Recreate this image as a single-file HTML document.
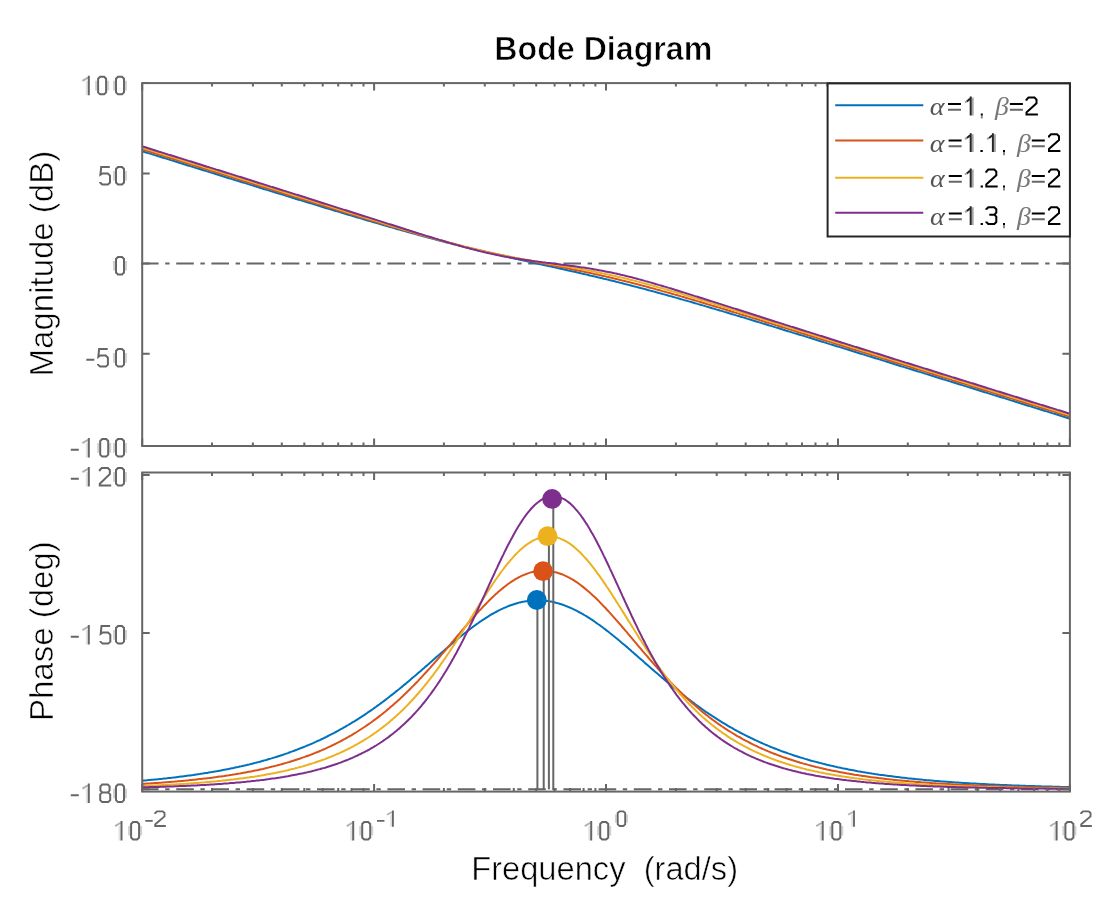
<!DOCTYPE html><html><head><meta charset="utf-8"><style>html,body{margin:0;padding:0;background:#fff;overflow:hidden}svg{display:block;filter:blur(0.65px)}</style></head><body><svg width="1105" height="918" viewBox="0 0 1105 918"><rect width="1105" height="918" fill="#fff"/><text transform="translate(603.3,60) scale(0.975,1)" text-anchor="middle" font-family="Liberation Sans" font-weight="bold" font-size="33" fill="#000" stroke="#fff" stroke-width="0.7">Bode Diagram</text><text transform="translate(53,263.6) rotate(-90)" text-anchor="middle" font-family="Liberation Sans" font-size="33" fill="#000" stroke="#fff" stroke-width="0.6">Magnitude (dB)</text><text transform="translate(53,631.1) rotate(-90)" text-anchor="middle" font-family="Liberation Sans" font-size="33" fill="#000" stroke="#fff" stroke-width="0.6">Phase (deg)</text><text transform="translate(604.6,880) scale(0.99,1)" text-anchor="middle" font-family="Liberation Sans" font-size="33" fill="#000" stroke="#fff" stroke-width="0.6" xml:space="preserve">Frequency  (rad/s)</text><path d="M88.80 75.80V95.30M100.10 76.77H104.10L106.10 78.72V92.38L104.10 94.32H100.10L98.10 92.38V78.72ZM118.00 76.77H122.00L124.00 78.72V92.38L122.00 94.32H118.00L116.00 92.38V78.72ZM109.80 166.97H101.20L100.40 174.78L102.40 173.41H107.80L110.00 175.56V182.57L108.00 184.53H102.20L100.20 182.57V181.99M118.00 166.97H122.00L124.00 168.93V182.57L122.00 184.53H118.00L116.00 182.57V168.93ZM118.00 256.98H122.00L124.00 258.93V272.57L122.00 274.52H118.00L116.00 272.57V258.93ZM86.30 359.70H94.30M107.70 349.08H99.10L98.30 356.88L100.30 355.51H105.70L107.90 357.66V364.68L105.90 366.62H100.10L98.10 364.68V364.09M118.00 349.08H122.00L124.00 351.03V364.68L122.00 366.62H118.00L116.00 364.68V351.03ZM70.80 449.70H78.80M88.80 438.10V457.60M102.20 439.08H106.20L108.20 441.03V454.68L106.20 456.62H102.20L100.20 454.68V441.03ZM118.00 439.08H122.00L124.00 441.03V454.68L122.00 456.62H118.00L116.00 454.68V441.03ZM70.80 478.70H78.80M88.80 467.10V486.60M99.80 471.20V470.03L101.80 468.08H107.80L109.80 470.03V474.12L100.80 482.70L99.80 483.68V485.62H111.20M118.00 468.08H122.00L124.00 470.03V483.68L122.00 485.62H118.00L116.00 483.68V470.03ZM70.80 636.70H78.80M88.80 625.10V644.60M110.10 626.08H101.50L100.70 633.88L102.70 632.51H108.10L110.30 634.65V641.68L108.30 643.62H102.50L100.50 641.68V641.09M118.00 626.08H122.00L124.00 628.02V641.68L122.00 643.62H118.00L116.00 641.68V628.02ZM70.80 795.20H78.80M88.80 783.60V803.10M102.20 784.58H107.80L109.60 786.33V790.43L107.80 792.38H102.20L100.40 790.43V786.33ZM102.20 792.38H108.20L110.20 794.33V800.18L108.20 802.12H102.20L100.20 800.18V794.33ZM118.00 784.58H122.00L124.00 786.52V800.18L122.00 802.12H118.00L116.00 800.18V786.52ZM121.50 821.00V840.50M133.10 821.98H137.10L139.10 823.92V837.58L137.10 839.52H133.10L131.10 837.58V823.92ZM353.20 821.00V840.50M364.20 821.98H368.20L370.20 823.92V837.58L368.20 839.52H364.20L362.20 837.58V823.92ZM591.20 821.00V840.50M602.20 821.98H606.20L608.20 823.92V837.58L606.20 839.52H602.20L600.20 837.58V823.92ZM822.70 821.00V840.50M834.30 821.98H838.30L840.30 823.92V837.58L838.30 839.52H834.30L832.30 837.58V823.92ZM1056.60 821.00V840.50M1067.40 821.98H1071.40L1073.40 823.92V837.58L1071.40 839.52H1067.40L1065.40 837.58V823.92Z" fill="none" stroke="#666666" stroke-width="2.00" stroke-linejoin="miter" stroke-linecap="butt"/><path d="M88.00 77.55L82.40 80.87M88.00 439.86L82.40 443.17M88.00 468.86L82.40 472.17M88.00 626.86L82.40 630.17M88.00 785.36L82.40 788.67M120.70 822.75L115.10 826.07M352.40 822.75L346.80 826.07M590.40 822.75L584.80 826.07M821.90 822.75L816.30 826.07M1055.80 822.75L1050.20 826.07" fill="none" stroke="#666666" stroke-width="2.00" stroke-linejoin="miter" stroke-linecap="butt" stroke-opacity="0.5"/><path d="M86.80 80.67V95.30M86.80 442.98V457.60M86.80 471.98V486.60M86.80 629.98V644.60M86.80 788.48V803.10M119.50 825.88V840.50M351.20 825.88V840.50M589.20 825.88V840.50M820.70 825.88V840.50M1054.60 825.88V840.50" fill="none" stroke="#666666" stroke-width="2.00" stroke-linejoin="miter" stroke-linecap="butt" stroke-opacity="0.18"/><path d="M96.10 80.67V90.42M108.10 80.67V90.42M114.00 80.67V90.42M126.00 80.67V90.42M114.00 170.88V180.62M126.00 170.88V180.62M114.00 260.88V270.62M126.00 260.88V270.62M114.00 352.98V362.73M126.00 352.98V362.73M98.20 442.98V452.73M110.20 442.98V452.73M114.00 442.98V452.73M126.00 442.98V452.73M114.00 471.98V481.73M126.00 471.98V481.73M114.00 629.98V639.73M126.00 629.98V639.73M114.00 788.48V798.23M126.00 788.48V798.23M129.10 825.88V835.62M141.10 825.88V835.62M360.20 825.88V835.62M372.20 825.88V835.62M598.20 825.88V835.62M610.20 825.88V835.62M830.30 825.88V835.62M842.30 825.88V835.62M1063.40 825.88V835.62M1075.40 825.88V835.62" fill="none" stroke="#666666" stroke-width="2.00" stroke-linejoin="miter" stroke-linecap="butt" stroke-opacity="0.3"/><path d="M155.23 813.92V812.95L157.09 811.32H162.67L164.53 812.95V816.37L156.16 823.54L155.23 824.36V825.99H165.83M392.91 810.50V826.80M619.59 811.32H623.31L625.17 812.95V824.36L623.31 825.99H619.59L617.73 824.36V812.95ZM854.01 810.50V826.80M1081.23 813.92V812.95L1083.09 811.32H1088.67L1090.53 812.95V816.37L1082.16 823.54L1081.23 824.36V825.99H1091.83" fill="none" stroke="#666666" stroke-width="1.86" stroke-linejoin="miter" stroke-linecap="butt"/><path d="M392.17 811.97L386.96 814.74M853.27 811.97L848.06 814.74" fill="none" stroke="#666666" stroke-width="1.86" stroke-linejoin="miter" stroke-linecap="butt" stroke-opacity="0.5"/><path d="M391.05 814.58V826.80M852.15 814.58V826.80" fill="none" stroke="#666666" stroke-width="1.86" stroke-linejoin="miter" stroke-linecap="butt" stroke-opacity="0.18"/><path d="M615.87 814.58V822.73M627.03 814.58V822.73" fill="none" stroke="#666666" stroke-width="1.86" stroke-linejoin="miter" stroke-linecap="butt" stroke-opacity="0.3"/><path d="M145.30 820.90H152.74M377.00 820.90H384.44" fill="none" stroke="#666666" stroke-width="1.86" stroke-linejoin="miter" stroke-linecap="butt"/><defs><clipPath id="cm"><rect x="142.2" y="83.1" width="927.7" height="362.9"/></clipPath><clipPath id="cp"><rect x="142.2" y="472.5" width="927.7" height="319.1"/></clipPath></defs><path d="M141 263.6H1069.9M141 789.3H1069.9" stroke="#666666" stroke-width="2" stroke-dasharray="17.6 6.6 4.4 6.6" fill="none"/><g clip-path="url(#cm)" fill="none" stroke-width="2.0"><polyline points="142.2,151.2 143.7,151.7 145.3,152.2 146.8,152.7 148.4,153.1 149.9,153.6 151.5,154.1 153.0,154.6 154.6,155.1 156.1,155.6 157.7,156.0 159.2,156.5 160.8,157.0 162.3,157.5 163.9,158.0 165.4,158.4 167.0,158.9 168.5,159.4 170.1,159.9 171.6,160.4 173.2,160.8 174.7,161.3 176.3,161.8 177.8,162.3 179.4,162.8 180.9,163.3 182.5,163.7 184.0,164.2 185.6,164.7 187.1,165.2 188.7,165.7 190.2,166.1 191.8,166.6 193.3,167.1 194.9,167.6 196.4,168.1 198.0,168.5 199.5,169.0 201.1,169.5 202.6,170.0 204.1,170.5 205.7,170.9 207.2,171.4 208.8,171.9 210.3,172.4 211.9,172.9 213.4,173.3 215.0,173.8 216.5,174.3 218.1,174.8 219.6,175.3 221.2,175.8 222.7,176.2 224.3,176.7 225.8,177.2 227.4,177.7 228.9,178.2 230.5,178.6 232.0,179.1 233.6,179.6 235.1,180.1 236.7,180.6 238.2,181.0 239.8,181.5 241.3,182.0 242.9,182.5 244.4,182.9 246.0,183.4 247.5,183.9 249.1,184.4 250.6,184.9 252.2,185.3 253.7,185.8 255.3,186.3 256.8,186.8 258.4,187.3 259.9,187.7 261.5,188.2 263.0,188.7 264.6,189.2 266.1,189.6 267.6,190.1 269.2,190.6 270.7,191.1 272.3,191.6 273.8,192.0 275.4,192.5 276.9,193.0 278.5,193.5 280.0,193.9 281.6,194.4 283.1,194.9 284.7,195.4 286.2,195.9 287.8,196.3 289.3,196.8 290.9,197.3 292.4,197.8 294.0,198.2 295.5,198.7 297.1,199.2 298.6,199.7 300.2,200.1 301.7,200.6 303.3,201.1 304.8,201.6 306.4,202.0 307.9,202.5 309.5,203.0 311.0,203.4 312.6,203.9 314.1,204.4 315.7,204.9 317.2,205.3 318.8,205.8 320.3,206.3 321.9,206.7 323.4,207.2 325.0,207.7 326.5,208.2 328.0,208.6 329.6,209.1 331.1,209.6 332.7,210.0 334.2,210.5 335.8,211.0 337.3,211.4 338.9,211.9 340.4,212.4 342.0,212.8 343.5,213.3 345.1,213.8 346.6,214.2 348.2,214.7 349.7,215.1 351.3,215.6 352.8,216.1 354.4,216.5 355.9,217.0 357.5,217.5 359.0,217.9 360.6,218.4 362.1,218.8 363.7,219.3 365.2,219.7 366.8,220.2 368.3,220.7 369.9,221.1 371.4,221.6 373.0,222.0 374.5,222.5 376.1,222.9 377.6,223.4 379.2,223.8 380.7,224.3 382.3,224.7 383.8,225.2 385.4,225.6 386.9,226.1 388.5,226.5 390.0,227.0 391.5,227.4 393.1,227.8 394.6,228.3 396.2,228.7 397.7,229.2 399.3,229.6 400.8,230.0 402.4,230.5 403.9,230.9 405.5,231.3 407.0,231.8 408.6,232.2 410.1,232.6 411.7,233.1 413.2,233.5 414.8,233.9 416.3,234.4 417.9,234.8 419.4,235.2 421.0,235.6 422.5,236.0 424.1,236.5 425.6,236.9 427.2,237.3 428.7,237.7 430.3,238.1 431.8,238.5 433.4,238.9 434.9,239.4 436.5,239.8 438.0,240.2 439.6,240.6 441.1,241.0 442.7,241.4 444.2,241.8 445.8,242.2 447.3,242.6 448.9,243.0 450.4,243.4 451.9,243.8 453.5,244.2 455.0,244.5 456.6,244.9 458.1,245.3 459.7,245.7 461.2,246.1 462.8,246.5 464.3,246.9 465.9,247.2 467.4,247.6 469.0,248.0 470.5,248.4 472.1,248.7 473.6,249.1 475.2,249.5 476.7,249.9 478.3,250.2 479.8,250.6 481.4,251.0 482.9,251.3 484.5,251.7 486.0,252.1 487.6,252.4 489.1,252.8 490.7,253.1 492.2,253.5 493.8,253.9 495.3,254.2 496.9,254.6 498.4,254.9 500.0,255.3 501.5,255.6 503.1,256.0 504.6,256.3 506.2,256.7 507.7,257.0 509.3,257.4 510.8,257.7 512.4,258.1 513.9,258.4 515.4,258.8 517.0,259.1 518.5,259.4 520.1,259.8 521.6,260.1 523.2,260.5 524.7,260.8 526.3,261.1 527.8,261.5 529.4,261.8 530.9,262.2 532.5,262.5 534.0,262.9 535.6,263.2 537.1,263.5 537.4,263.6 538.7,263.9 540.2,264.2 541.8,264.6 543.3,264.9 544.9,265.2 546.4,265.6 548.0,265.9 549.5,266.3 551.1,266.6 552.6,266.9 554.2,267.3 555.7,267.6 557.3,268.0 558.8,268.3 560.4,268.7 561.9,269.0 563.5,269.3 565.0,269.7 566.6,270.0 568.1,270.4 569.7,270.7 571.2,271.1 572.8,271.4 574.3,271.8 575.8,272.1 577.4,272.5 578.9,272.8 580.5,273.2 582.0,273.6 583.6,273.9 585.1,274.3 586.7,274.6 588.2,275.0 589.8,275.4 591.3,275.7 592.9,276.1 594.4,276.4 596.0,276.8 597.5,277.2 599.1,277.6 600.6,277.9 602.2,278.3 603.7,278.7 605.3,279.0 606.8,279.4 608.4,279.8 609.9,280.2 611.5,280.6 613.0,280.9 614.6,281.3 616.1,281.7 617.7,282.1 619.2,282.5 620.8,282.9 622.3,283.3 623.9,283.7 625.4,284.1 627.0,284.5 628.5,284.9 630.1,285.3 631.6,285.7 633.2,286.1 634.7,286.5 636.3,286.9 637.8,287.3 639.3,287.7 640.9,288.1 642.4,288.5 644.0,288.9 645.5,289.3 647.1,289.7 648.6,290.2 650.2,290.6 651.7,291.0 653.3,291.4 654.8,291.8 656.4,292.3 657.9,292.7 659.5,293.1 661.0,293.5 662.6,294.0 664.1,294.4 665.7,294.8 667.2,295.2 668.8,295.7 670.3,296.1 671.9,296.5 673.4,297.0 675.0,297.4 676.5,297.9 678.1,298.3 679.6,298.7 681.2,299.2 682.7,299.6 684.3,300.1 685.8,300.5 687.4,300.9 688.9,301.4 690.5,301.8 692.0,302.3 693.6,302.7 695.1,303.2 696.7,303.6 698.2,304.1 699.7,304.5 701.3,305.0 702.8,305.4 704.4,305.9 705.9,306.4 707.5,306.8 709.0,307.3 710.6,307.7 712.1,308.2 713.7,308.6 715.2,309.1 716.8,309.6 718.3,310.0 719.9,310.5 721.4,310.9 723.0,311.4 724.5,311.9 726.1,312.3 727.6,312.8 729.2,313.3 730.7,313.7 732.3,314.2 733.8,314.6 735.4,315.1 736.9,315.6 738.5,316.0 740.0,316.5 741.6,317.0 743.1,317.4 744.7,317.9 746.2,318.4 747.8,318.9 749.3,319.3 750.9,319.8 752.4,320.3 754.0,320.7 755.5,321.2 757.1,321.7 758.6,322.1 760.2,322.6 761.7,323.1 763.2,323.6 764.8,324.0 766.3,324.5 767.9,325.0 769.4,325.5 771.0,325.9 772.5,326.4 774.1,326.9 775.6,327.4 777.2,327.8 778.7,328.3 780.3,328.8 781.8,329.3 783.4,329.7 784.9,330.2 786.5,330.7 788.0,331.2 789.6,331.6 791.1,332.1 792.7,332.6 794.2,333.1 795.8,333.5 797.3,334.0 798.9,334.5 800.4,335.0 802.0,335.4 803.5,335.9 805.1,336.4 806.6,336.9 808.2,337.4 809.7,337.8 811.3,338.3 812.8,338.8 814.4,339.3 815.9,339.7 817.5,340.2 819.0,340.7 820.6,341.2 822.1,341.7 823.6,342.1 825.2,342.6 826.7,343.1 828.3,343.6 829.8,344.1 831.4,344.5 832.9,345.0 834.5,345.5 836.0,346.0 837.6,346.5 839.1,346.9 840.7,347.4 842.2,347.9 843.8,348.4 845.3,348.9 846.9,349.3 848.4,349.8 850.0,350.3 851.5,350.8 853.1,351.3 854.6,351.7 856.2,352.2 857.7,352.7 859.3,353.2 860.8,353.7 862.4,354.1 863.9,354.6 865.5,355.1 867.0,355.6 868.6,356.1 870.1,356.5 871.7,357.0 873.2,357.5 874.8,358.0 876.3,358.5 877.9,358.9 879.4,359.4 881.0,359.9 882.5,360.4 884.1,360.9 885.6,361.3 887.1,361.8 888.7,362.3 890.2,362.8 891.8,363.3 893.3,363.8 894.9,364.2 896.4,364.7 898.0,365.2 899.5,365.7 901.1,366.2 902.6,366.6 904.2,367.1 905.7,367.6 907.3,368.1 908.8,368.6 910.4,369.0 911.9,369.5 913.5,370.0 915.0,370.5 916.6,371.0 918.1,371.5 919.7,371.9 921.2,372.4 922.8,372.9 924.3,373.4 925.9,373.9 927.4,374.3 929.0,374.8 930.5,375.3 932.1,375.8 933.6,376.3 935.2,376.8 936.7,377.2 938.3,377.7 939.8,378.2 941.4,378.7 942.9,379.2 944.5,379.6 946.0,380.1 947.5,380.6 949.1,381.1 950.6,381.6 952.2,382.0 953.7,382.5 955.3,383.0 956.8,383.5 958.4,384.0 959.9,384.5 961.5,384.9 963.0,385.4 964.6,385.9 966.1,386.4 967.7,386.9 969.2,387.3 970.8,387.8 972.3,388.3 973.9,388.8 975.4,389.3 977.0,389.8 978.5,390.2 980.1,390.7 981.6,391.2 983.2,391.7 984.7,392.2 986.3,392.6 987.8,393.1 989.4,393.6 990.9,394.1 992.5,394.6 994.0,395.1 995.6,395.5 997.1,396.0 998.7,396.5 1000.2,397.0 1001.8,397.5 1003.3,397.9 1004.9,398.4 1006.4,398.9 1008.0,399.4 1009.5,399.9 1011.0,400.4 1012.6,400.8 1014.1,401.3 1015.7,401.8 1017.2,402.3 1018.8,402.8 1020.3,403.2 1021.9,403.7 1023.4,404.2 1025.0,404.7 1026.5,405.2 1028.1,405.7 1029.6,406.1 1031.2,406.6 1032.7,407.1 1034.3,407.6 1035.8,408.1 1037.4,408.5 1038.9,409.0 1040.5,409.5 1042.0,410.0 1043.6,410.5 1045.1,411.0 1046.7,411.4 1048.2,411.9 1049.8,412.4 1051.3,412.9 1052.9,413.4 1054.4,413.8 1056.0,414.3 1057.5,414.8 1059.1,415.3 1060.6,415.8 1062.2,416.3 1063.7,416.7 1065.3,417.2 1066.8,417.7 1068.4,418.2 1069.9,418.7" stroke="#0072BD"/><polyline points="142.2,149.3 143.7,149.8 145.3,150.3 146.8,150.8 148.4,151.3 149.9,151.7 151.5,152.2 153.0,152.7 154.6,153.2 156.1,153.7 157.7,154.2 159.2,154.6 160.8,155.1 162.3,155.6 163.9,156.1 165.4,156.6 167.0,157.0 168.5,157.5 170.1,158.0 171.6,158.5 173.2,159.0 174.7,159.5 176.3,159.9 177.8,160.4 179.4,160.9 180.9,161.4 182.5,161.9 184.0,162.4 185.6,162.8 187.1,163.3 188.7,163.8 190.2,164.3 191.8,164.8 193.3,165.3 194.9,165.7 196.4,166.2 198.0,166.7 199.5,167.2 201.1,167.7 202.6,168.2 204.1,168.6 205.7,169.1 207.2,169.6 208.8,170.1 210.3,170.6 211.9,171.0 213.4,171.5 215.0,172.0 216.5,172.5 218.1,173.0 219.6,173.5 221.2,173.9 222.7,174.4 224.3,174.9 225.8,175.4 227.4,175.9 228.9,176.4 230.5,176.8 232.0,177.3 233.6,177.8 235.1,178.3 236.7,178.8 238.2,179.3 239.8,179.7 241.3,180.2 242.9,180.7 244.4,181.2 246.0,181.7 247.5,182.2 249.1,182.6 250.6,183.1 252.2,183.6 253.7,184.1 255.3,184.6 256.8,185.0 258.4,185.5 259.9,186.0 261.5,186.5 263.0,187.0 264.6,187.5 266.1,187.9 267.6,188.4 269.2,188.9 270.7,189.4 272.3,189.9 273.8,190.4 275.4,190.8 276.9,191.3 278.5,191.8 280.0,192.3 281.6,192.8 283.1,193.3 284.7,193.7 286.2,194.2 287.8,194.7 289.3,195.2 290.9,195.7 292.4,196.1 294.0,196.6 295.5,197.1 297.1,197.6 298.6,198.1 300.2,198.6 301.7,199.0 303.3,199.5 304.8,200.0 306.4,200.5 307.9,201.0 309.5,201.4 311.0,201.9 312.6,202.4 314.1,202.9 315.7,203.4 317.2,203.8 318.8,204.3 320.3,204.8 321.9,205.3 323.4,205.8 325.0,206.2 326.5,206.7 328.0,207.2 329.6,207.7 331.1,208.2 332.7,208.6 334.2,209.1 335.8,209.6 337.3,210.1 338.9,210.5 340.4,211.0 342.0,211.5 343.5,212.0 345.1,212.5 346.6,212.9 348.2,213.4 349.7,213.9 351.3,214.4 352.8,214.8 354.4,215.3 355.9,215.8 357.5,216.3 359.0,216.7 360.6,217.2 362.1,217.7 363.7,218.1 365.2,218.6 366.8,219.1 368.3,219.6 369.9,220.0 371.4,220.5 373.0,221.0 374.5,221.4 376.1,221.9 377.6,222.4 379.2,222.8 380.7,223.3 382.3,223.8 383.8,224.2 385.4,224.7 386.9,225.1 388.5,225.6 390.0,226.1 391.5,226.5 393.1,227.0 394.6,227.4 396.2,227.9 397.7,228.4 399.3,228.8 400.8,229.3 402.4,229.7 403.9,230.2 405.5,230.6 407.0,231.1 408.6,231.5 410.1,232.0 411.7,232.4 413.2,232.9 414.8,233.3 416.3,233.7 417.9,234.2 419.4,234.6 421.0,235.1 422.5,235.5 424.1,235.9 425.6,236.4 427.2,236.8 428.7,237.2 430.3,237.6 431.8,238.1 433.4,238.5 434.9,238.9 436.5,239.3 438.0,239.8 439.6,240.2 441.1,240.6 442.7,241.0 444.2,241.4 445.8,241.8 447.3,242.2 448.9,242.6 450.4,243.0 451.9,243.4 453.5,243.8 455.0,244.2 456.6,244.6 458.1,245.0 459.7,245.4 461.2,245.8 462.8,246.2 464.3,246.6 465.9,247.0 467.4,247.3 469.0,247.7 470.5,248.1 472.1,248.5 473.6,248.8 475.2,249.2 476.7,249.6 478.3,249.9 479.8,250.3 481.4,250.6 482.9,251.0 484.5,251.3 486.0,251.7 487.6,252.0 489.1,252.4 490.7,252.7 492.2,253.1 493.8,253.4 495.3,253.8 496.9,254.1 498.4,254.4 500.0,254.8 501.5,255.1 503.1,255.4 504.6,255.8 506.2,256.1 507.7,256.4 509.3,256.7 510.8,257.0 512.4,257.4 513.9,257.7 515.4,258.0 517.0,258.3 518.5,258.6 520.1,258.9 521.6,259.3 523.2,259.6 524.7,259.9 526.3,260.2 527.8,260.5 529.4,260.8 530.9,261.1 532.5,261.4 534.0,261.7 535.6,262.0 537.1,262.3 538.7,262.6 540.2,262.9 541.8,263.2 543.3,263.5 543.7,263.6 544.9,263.8 546.4,264.1 548.0,264.4 549.5,264.7 551.1,265.0 552.6,265.4 554.2,265.7 555.7,266.0 557.3,266.3 558.8,266.6 560.4,266.9 561.9,267.2 563.5,267.5 565.0,267.8 566.6,268.1 568.1,268.4 569.7,268.7 571.2,269.1 572.8,269.4 574.3,269.7 575.8,270.0 577.4,270.3 578.9,270.7 580.5,271.0 582.0,271.3 583.6,271.6 585.1,272.0 586.7,272.3 588.2,272.6 589.8,272.9 591.3,273.3 592.9,273.6 594.4,274.0 596.0,274.3 597.5,274.6 599.1,275.0 600.6,275.3 602.2,275.7 603.7,276.0 605.3,276.4 606.8,276.8 608.4,277.1 609.9,277.5 611.5,277.8 613.0,278.2 614.6,278.6 616.1,278.9 617.7,279.3 619.2,279.7 620.8,280.1 622.3,280.5 623.9,280.8 625.4,281.2 627.0,281.6 628.5,282.0 630.1,282.4 631.6,282.8 633.2,283.2 634.7,283.6 636.3,284.0 637.8,284.4 639.3,284.8 640.9,285.2 642.4,285.6 644.0,286.0 645.5,286.4 647.1,286.8 648.6,287.2 650.2,287.7 651.7,288.1 653.3,288.5 654.8,288.9 656.4,289.4 657.9,289.8 659.5,290.2 661.0,290.6 662.6,291.1 664.1,291.5 665.7,291.9 667.2,292.4 668.8,292.8 670.3,293.3 671.9,293.7 673.4,294.1 675.0,294.6 676.5,295.0 678.1,295.5 679.6,295.9 681.2,296.4 682.7,296.8 684.3,297.3 685.8,297.7 687.4,298.2 688.9,298.6 690.5,299.1 692.0,299.5 693.6,300.0 695.1,300.5 696.7,300.9 698.2,301.4 699.7,301.8 701.3,302.3 702.8,302.8 704.4,303.2 705.9,303.7 707.5,304.2 709.0,304.6 710.6,305.1 712.1,305.6 713.7,306.0 715.2,306.5 716.8,307.0 718.3,307.4 719.9,307.9 721.4,308.4 723.0,308.8 724.5,309.3 726.1,309.8 727.6,310.3 729.2,310.7 730.7,311.2 732.3,311.7 733.8,312.2 735.4,312.6 736.9,313.1 738.5,313.6 740.0,314.1 741.6,314.5 743.1,315.0 744.7,315.5 746.2,316.0 747.8,316.4 749.3,316.9 750.9,317.4 752.4,317.9 754.0,318.3 755.5,318.8 757.1,319.3 758.6,319.8 760.2,320.3 761.7,320.7 763.2,321.2 764.8,321.7 766.3,322.2 767.9,322.7 769.4,323.1 771.0,323.6 772.5,324.1 774.1,324.6 775.6,325.1 777.2,325.5 778.7,326.0 780.3,326.5 781.8,327.0 783.4,327.5 784.9,327.9 786.5,328.4 788.0,328.9 789.6,329.4 791.1,329.9 792.7,330.4 794.2,330.8 795.8,331.3 797.3,331.8 798.9,332.3 800.4,332.8 802.0,333.2 803.5,333.7 805.1,334.2 806.6,334.7 808.2,335.2 809.7,335.7 811.3,336.1 812.8,336.6 814.4,337.1 815.9,337.6 817.5,338.1 819.0,338.6 820.6,339.0 822.1,339.5 823.6,340.0 825.2,340.5 826.7,341.0 828.3,341.4 829.8,341.9 831.4,342.4 832.9,342.9 834.5,343.4 836.0,343.9 837.6,344.3 839.1,344.8 840.7,345.3 842.2,345.8 843.8,346.3 845.3,346.8 846.9,347.2 848.4,347.7 850.0,348.2 851.5,348.7 853.1,349.2 854.6,349.7 856.2,350.1 857.7,350.6 859.3,351.1 860.8,351.6 862.4,352.1 863.9,352.6 865.5,353.0 867.0,353.5 868.6,354.0 870.1,354.5 871.7,355.0 873.2,355.4 874.8,355.9 876.3,356.4 877.9,356.9 879.4,357.4 881.0,357.9 882.5,358.3 884.1,358.8 885.6,359.3 887.1,359.8 888.7,360.3 890.2,360.8 891.8,361.2 893.3,361.7 894.9,362.2 896.4,362.7 898.0,363.2 899.5,363.7 901.1,364.1 902.6,364.6 904.2,365.1 905.7,365.6 907.3,366.1 908.8,366.6 910.4,367.0 911.9,367.5 913.5,368.0 915.0,368.5 916.6,369.0 918.1,369.4 919.7,369.9 921.2,370.4 922.8,370.9 924.3,371.4 925.9,371.9 927.4,372.3 929.0,372.8 930.5,373.3 932.1,373.8 933.6,374.3 935.2,374.8 936.7,375.2 938.3,375.7 939.8,376.2 941.4,376.7 942.9,377.2 944.5,377.7 946.0,378.1 947.5,378.6 949.1,379.1 950.6,379.6 952.2,380.1 953.7,380.5 955.3,381.0 956.8,381.5 958.4,382.0 959.9,382.5 961.5,383.0 963.0,383.4 964.6,383.9 966.1,384.4 967.7,384.9 969.2,385.4 970.8,385.9 972.3,386.3 973.9,386.8 975.4,387.3 977.0,387.8 978.5,388.3 980.1,388.7 981.6,389.2 983.2,389.7 984.7,390.2 986.3,390.7 987.8,391.2 989.4,391.6 990.9,392.1 992.5,392.6 994.0,393.1 995.6,393.6 997.1,394.1 998.7,394.5 1000.2,395.0 1001.8,395.5 1003.3,396.0 1004.9,396.5 1006.4,396.9 1008.0,397.4 1009.5,397.9 1011.0,398.4 1012.6,398.9 1014.1,399.4 1015.7,399.8 1017.2,400.3 1018.8,400.8 1020.3,401.3 1021.9,401.8 1023.4,402.2 1025.0,402.7 1026.5,403.2 1028.1,403.7 1029.6,404.2 1031.2,404.7 1032.7,405.1 1034.3,405.6 1035.8,406.1 1037.4,406.6 1038.9,407.1 1040.5,407.6 1042.0,408.0 1043.6,408.5 1045.1,409.0 1046.7,409.5 1048.2,410.0 1049.8,410.4 1051.3,410.9 1052.9,411.4 1054.4,411.9 1056.0,412.4 1057.5,412.9 1059.1,413.3 1060.6,413.8 1062.2,414.3 1063.7,414.8 1065.3,415.3 1066.8,415.7 1068.4,416.2 1069.9,416.7" stroke="#D95319"/><polyline points="142.2,147.7 143.7,148.2 145.3,148.7 146.8,149.2 148.4,149.7 149.9,150.1 151.5,150.6 153.0,151.1 154.6,151.6 156.1,152.1 157.7,152.6 159.2,153.0 160.8,153.5 162.3,154.0 163.9,154.5 165.4,155.0 167.0,155.5 168.5,155.9 170.1,156.4 171.6,156.9 173.2,157.4 174.7,157.9 176.3,158.4 177.8,158.8 179.4,159.3 180.9,159.8 182.5,160.3 184.0,160.8 185.6,161.3 187.1,161.7 188.7,162.2 190.2,162.7 191.8,163.2 193.3,163.7 194.9,164.2 196.4,164.6 198.0,165.1 199.5,165.6 201.1,166.1 202.6,166.6 204.1,167.1 205.7,167.5 207.2,168.0 208.8,168.5 210.3,169.0 211.9,169.5 213.4,170.0 215.0,170.4 216.5,170.9 218.1,171.4 219.6,171.9 221.2,172.4 222.7,172.9 224.3,173.3 225.8,173.8 227.4,174.3 228.9,174.8 230.5,175.3 232.0,175.8 233.6,176.3 235.1,176.7 236.7,177.2 238.2,177.7 239.8,178.2 241.3,178.7 242.9,179.2 244.4,179.6 246.0,180.1 247.5,180.6 249.1,181.1 250.6,181.6 252.2,182.1 253.7,182.6 255.3,183.0 256.8,183.5 258.4,184.0 259.9,184.5 261.5,185.0 263.0,185.5 264.6,185.9 266.1,186.4 267.6,186.9 269.2,187.4 270.7,187.9 272.3,188.4 273.8,188.9 275.4,189.3 276.9,189.8 278.5,190.3 280.0,190.8 281.6,191.3 283.1,191.8 284.7,192.3 286.2,192.7 287.8,193.2 289.3,193.7 290.9,194.2 292.4,194.7 294.0,195.2 295.5,195.7 297.1,196.1 298.6,196.6 300.2,197.1 301.7,197.6 303.3,198.1 304.8,198.6 306.4,199.1 307.9,199.6 309.5,200.0 311.0,200.5 312.6,201.0 314.1,201.5 315.7,202.0 317.2,202.5 318.8,203.0 320.3,203.4 321.9,203.9 323.4,204.4 325.0,204.9 326.5,205.4 328.0,205.9 329.6,206.4 331.1,206.8 332.7,207.3 334.2,207.8 335.8,208.3 337.3,208.8 338.9,209.3 340.4,209.8 342.0,210.2 343.5,210.7 345.1,211.2 346.6,211.7 348.2,212.2 349.7,212.7 351.3,213.2 352.8,213.6 354.4,214.1 355.9,214.6 357.5,215.1 359.0,215.6 360.6,216.1 362.1,216.6 363.7,217.0 365.2,217.5 366.8,218.0 368.3,218.5 369.9,219.0 371.4,219.5 373.0,219.9 374.5,220.4 376.1,220.9 377.6,221.4 379.2,221.9 380.7,222.3 382.3,222.8 383.8,223.3 385.4,223.8 386.9,224.3 388.5,224.7 390.0,225.2 391.5,225.7 393.1,226.2 394.6,226.7 396.2,227.1 397.7,227.6 399.3,228.1 400.8,228.6 402.4,229.0 403.9,229.5 405.5,230.0 407.0,230.4 408.6,230.9 410.1,231.4 411.7,231.8 413.2,232.3 414.8,232.8 416.3,233.2 417.9,233.7 419.4,234.2 421.0,234.6 422.5,235.1 424.1,235.5 425.6,236.0 427.2,236.4 428.7,236.9 430.3,237.3 431.8,237.8 433.4,238.2 434.9,238.7 436.5,239.1 438.0,239.6 439.6,240.0 441.1,240.4 442.7,240.9 444.2,241.3 445.8,241.7 447.3,242.2 448.9,242.6 450.4,243.0 451.9,243.4 453.5,243.9 455.0,244.3 456.6,244.7 458.1,245.1 459.7,245.5 461.2,245.9 462.8,246.3 464.3,246.7 465.9,247.1 467.4,247.5 469.0,247.9 470.5,248.3 472.1,248.6 473.6,249.0 475.2,249.4 476.7,249.8 478.3,250.1 479.8,250.5 481.4,250.8 482.9,251.2 484.5,251.6 486.0,251.9 487.6,252.2 489.1,252.6 490.7,252.9 492.2,253.3 493.8,253.6 495.3,253.9 496.9,254.2 498.4,254.6 500.0,254.9 501.5,255.2 503.1,255.5 504.6,255.8 506.2,256.1 507.7,256.4 509.3,256.7 510.8,257.0 512.4,257.3 513.9,257.6 515.4,257.9 517.0,258.2 518.5,258.4 520.1,258.7 521.6,259.0 523.2,259.3 524.7,259.5 526.3,259.8 527.8,260.1 529.4,260.3 530.9,260.6 532.5,260.9 534.0,261.1 535.6,261.4 537.1,261.7 538.7,261.9 540.2,262.2 541.8,262.4 543.3,262.7 544.9,262.9 546.4,263.2 548.0,263.5 548.9,263.6 549.5,263.7 551.1,264.0 552.6,264.2 554.2,264.5 555.7,264.7 557.3,265.0 558.8,265.2 560.4,265.5 561.9,265.8 563.5,266.0 565.0,266.3 566.6,266.5 568.1,266.8 569.7,267.1 571.2,267.3 572.8,267.6 574.3,267.9 575.8,268.2 577.4,268.4 578.9,268.7 580.5,269.0 582.0,269.3 583.6,269.6 585.1,269.8 586.7,270.1 588.2,270.4 589.8,270.7 591.3,271.0 592.9,271.3 594.4,271.6 596.0,272.0 597.5,272.3 599.1,272.6 600.6,272.9 602.2,273.2 603.7,273.6 605.3,273.9 606.8,274.2 608.4,274.6 609.9,274.9 611.5,275.2 613.0,275.6 614.6,275.9 616.1,276.3 617.7,276.7 619.2,277.0 620.8,277.4 622.3,277.8 623.9,278.1 625.4,278.5 627.0,278.9 628.5,279.3 630.1,279.7 631.6,280.0 633.2,280.4 634.7,280.8 636.3,281.2 637.8,281.6 639.3,282.0 640.9,282.4 642.4,282.9 644.0,283.3 645.5,283.7 647.1,284.1 648.6,284.5 650.2,285.0 651.7,285.4 653.3,285.8 654.8,286.2 656.4,286.7 657.9,287.1 659.5,287.6 661.0,288.0 662.6,288.4 664.1,288.9 665.7,289.3 667.2,289.8 668.8,290.2 670.3,290.7 671.9,291.1 673.4,291.6 675.0,292.0 676.5,292.5 678.1,293.0 679.6,293.4 681.2,293.9 682.7,294.4 684.3,294.8 685.8,295.3 687.4,295.7 688.9,296.2 690.5,296.7 692.0,297.2 693.6,297.6 695.1,298.1 696.7,298.6 698.2,299.0 699.7,299.5 701.3,300.0 702.8,300.5 704.4,300.9 705.9,301.4 707.5,301.9 709.0,302.4 710.6,302.9 712.1,303.3 713.7,303.8 715.2,304.3 716.8,304.8 718.3,305.3 719.9,305.7 721.4,306.2 723.0,306.7 724.5,307.2 726.1,307.7 727.6,308.1 729.2,308.6 730.7,309.1 732.3,309.6 733.8,310.1 735.4,310.6 736.9,311.0 738.5,311.5 740.0,312.0 741.6,312.5 743.1,313.0 744.7,313.5 746.2,314.0 747.8,314.4 749.3,314.9 750.9,315.4 752.4,315.9 754.0,316.4 755.5,316.9 757.1,317.4 758.6,317.8 760.2,318.3 761.7,318.8 763.2,319.3 764.8,319.8 766.3,320.3 767.9,320.8 769.4,321.2 771.0,321.7 772.5,322.2 774.1,322.7 775.6,323.2 777.2,323.7 778.7,324.2 780.3,324.6 781.8,325.1 783.4,325.6 784.9,326.1 786.5,326.6 788.0,327.1 789.6,327.6 791.1,328.1 792.7,328.5 794.2,329.0 795.8,329.5 797.3,330.0 798.9,330.5 800.4,331.0 802.0,331.5 803.5,331.9 805.1,332.4 806.6,332.9 808.2,333.4 809.7,333.9 811.3,334.4 812.8,334.9 814.4,335.3 815.9,335.8 817.5,336.3 819.0,336.8 820.6,337.3 822.1,337.8 823.6,338.3 825.2,338.7 826.7,339.2 828.3,339.7 829.8,340.2 831.4,340.7 832.9,341.2 834.5,341.7 836.0,342.1 837.6,342.6 839.1,343.1 840.7,343.6 842.2,344.1 843.8,344.6 845.3,345.0 846.9,345.5 848.4,346.0 850.0,346.5 851.5,347.0 853.1,347.5 854.6,348.0 856.2,348.4 857.7,348.9 859.3,349.4 860.8,349.9 862.4,350.4 863.9,350.9 865.5,351.3 867.0,351.8 868.6,352.3 870.1,352.8 871.7,353.3 873.2,353.8 874.8,354.3 876.3,354.7 877.9,355.2 879.4,355.7 881.0,356.2 882.5,356.7 884.1,357.2 885.6,357.6 887.1,358.1 888.7,358.6 890.2,359.1 891.8,359.6 893.3,360.1 894.9,360.5 896.4,361.0 898.0,361.5 899.5,362.0 901.1,362.5 902.6,363.0 904.2,363.4 905.7,363.9 907.3,364.4 908.8,364.9 910.4,365.4 911.9,365.9 913.5,366.3 915.0,366.8 916.6,367.3 918.1,367.8 919.7,368.3 921.2,368.8 922.8,369.2 924.3,369.7 925.9,370.2 927.4,370.7 929.0,371.2 930.5,371.7 932.1,372.1 933.6,372.6 935.2,373.1 936.7,373.6 938.3,374.1 939.8,374.6 941.4,375.0 942.9,375.5 944.5,376.0 946.0,376.5 947.5,377.0 949.1,377.5 950.6,377.9 952.2,378.4 953.7,378.9 955.3,379.4 956.8,379.9 958.4,380.4 959.9,380.8 961.5,381.3 963.0,381.8 964.6,382.3 966.1,382.8 967.7,383.3 969.2,383.7 970.8,384.2 972.3,384.7 973.9,385.2 975.4,385.7 977.0,386.2 978.5,386.6 980.1,387.1 981.6,387.6 983.2,388.1 984.7,388.6 986.3,389.0 987.8,389.5 989.4,390.0 990.9,390.5 992.5,391.0 994.0,391.5 995.6,391.9 997.1,392.4 998.7,392.9 1000.2,393.4 1001.8,393.9 1003.3,394.4 1004.9,394.8 1006.4,395.3 1008.0,395.8 1009.5,396.3 1011.0,396.8 1012.6,397.2 1014.1,397.7 1015.7,398.2 1017.2,398.7 1018.8,399.2 1020.3,399.7 1021.9,400.1 1023.4,400.6 1025.0,401.1 1026.5,401.6 1028.1,402.1 1029.6,402.6 1031.2,403.0 1032.7,403.5 1034.3,404.0 1035.8,404.5 1037.4,405.0 1038.9,405.4 1040.5,405.9 1042.0,406.4 1043.6,406.9 1045.1,407.4 1046.7,407.9 1048.2,408.3 1049.8,408.8 1051.3,409.3 1052.9,409.8 1054.4,410.3 1056.0,410.8 1057.5,411.2 1059.1,411.7 1060.6,412.2 1062.2,412.7 1063.7,413.2 1065.3,413.6 1066.8,414.1 1068.4,414.6 1069.9,415.1" stroke="#EDB120"/><polyline points="142.2,146.4 143.7,146.8 145.3,147.3 146.8,147.8 148.4,148.3 149.9,148.8 151.5,149.3 153.0,149.7 154.6,150.2 156.1,150.7 157.7,151.2 159.2,151.7 160.8,152.1 162.3,152.6 163.9,153.1 165.4,153.6 167.0,154.1 168.5,154.6 170.1,155.0 171.6,155.5 173.2,156.0 174.7,156.5 176.3,157.0 177.8,157.5 179.4,157.9 180.9,158.4 182.5,158.9 184.0,159.4 185.6,159.9 187.1,160.4 188.7,160.9 190.2,161.3 191.8,161.8 193.3,162.3 194.9,162.8 196.4,163.3 198.0,163.8 199.5,164.2 201.1,164.7 202.6,165.2 204.1,165.7 205.7,166.2 207.2,166.7 208.8,167.1 210.3,167.6 211.9,168.1 213.4,168.6 215.0,169.1 216.5,169.6 218.1,170.0 219.6,170.5 221.2,171.0 222.7,171.5 224.3,172.0 225.8,172.5 227.4,173.0 228.9,173.4 230.5,173.9 232.0,174.4 233.6,174.9 235.1,175.4 236.7,175.9 238.2,176.4 239.8,176.8 241.3,177.3 242.9,177.8 244.4,178.3 246.0,178.8 247.5,179.3 249.1,179.7 250.6,180.2 252.2,180.7 253.7,181.2 255.3,181.7 256.8,182.2 258.4,182.7 259.9,183.2 261.5,183.6 263.0,184.1 264.6,184.6 266.1,185.1 267.6,185.6 269.2,186.1 270.7,186.6 272.3,187.0 273.8,187.5 275.4,188.0 276.9,188.5 278.5,189.0 280.0,189.5 281.6,190.0 283.1,190.5 284.7,190.9 286.2,191.4 287.8,191.9 289.3,192.4 290.9,192.9 292.4,193.4 294.0,193.9 295.5,194.4 297.1,194.8 298.6,195.3 300.2,195.8 301.7,196.3 303.3,196.8 304.8,197.3 306.4,197.8 307.9,198.3 309.5,198.8 311.0,199.2 312.6,199.7 314.1,200.2 315.7,200.7 317.2,201.2 318.8,201.7 320.3,202.2 321.9,202.7 323.4,203.2 325.0,203.7 326.5,204.1 328.0,204.6 329.6,205.1 331.1,205.6 332.7,206.1 334.2,206.6 335.8,207.1 337.3,207.6 338.9,208.1 340.4,208.6 342.0,209.1 343.5,209.6 345.1,210.0 346.6,210.5 348.2,211.0 349.7,211.5 351.3,212.0 352.8,212.5 354.4,213.0 355.9,213.5 357.5,214.0 359.0,214.5 360.6,215.0 362.1,215.5 363.7,216.0 365.2,216.5 366.8,216.9 368.3,217.4 369.9,217.9 371.4,218.4 373.0,218.9 374.5,219.4 376.1,219.9 377.6,220.4 379.2,220.9 380.7,221.4 382.3,221.9 383.8,222.4 385.4,222.9 386.9,223.4 388.5,223.9 390.0,224.3 391.5,224.8 393.1,225.3 394.6,225.8 396.2,226.3 397.7,226.8 399.3,227.3 400.8,227.8 402.4,228.3 403.9,228.8 405.5,229.3 407.0,229.8 408.6,230.2 410.1,230.7 411.7,231.2 413.2,231.7 414.8,232.2 416.3,232.7 417.9,233.2 419.4,233.7 421.0,234.1 422.5,234.6 424.1,235.1 425.6,235.6 427.2,236.1 428.7,236.5 430.3,237.0 431.8,237.5 433.4,238.0 434.9,238.5 436.5,238.9 438.0,239.4 439.6,239.9 441.1,240.3 442.7,240.8 444.2,241.3 445.8,241.7 447.3,242.2 448.9,242.6 450.4,243.1 451.9,243.5 453.5,244.0 455.0,244.4 456.6,244.9 458.1,245.3 459.7,245.8 461.2,246.2 462.8,246.6 464.3,247.1 465.9,247.5 467.4,247.9 469.0,248.3 470.5,248.7 472.1,249.1 473.6,249.5 475.2,249.9 476.7,250.3 478.3,250.7 479.8,251.1 481.4,251.5 482.9,251.8 484.5,252.2 486.0,252.6 487.6,252.9 489.1,253.3 490.7,253.6 492.2,254.0 493.8,254.3 495.3,254.6 496.9,255.0 498.4,255.3 500.0,255.6 501.5,255.9 503.1,256.2 504.6,256.5 506.2,256.8 507.7,257.1 509.3,257.3 510.8,257.6 512.4,257.9 513.9,258.1 515.4,258.4 517.0,258.7 518.5,258.9 520.1,259.1 521.6,259.4 523.2,259.6 524.7,259.9 526.3,260.1 527.8,260.3 529.4,260.5 530.9,260.7 532.5,261.0 534.0,261.2 535.6,261.4 537.1,261.6 538.7,261.8 540.2,262.0 541.8,262.2 543.3,262.4 544.9,262.6 546.4,262.8 548.0,262.9 549.5,263.1 551.1,263.3 552.6,263.5 553.3,263.6 554.2,263.7 555.7,263.9 557.3,264.1 558.8,264.3 560.4,264.5 561.9,264.7 563.5,264.9 565.0,265.1 566.6,265.3 568.1,265.5 569.7,265.7 571.2,265.9 572.8,266.1 574.3,266.3 575.8,266.5 577.4,266.7 578.9,266.9 580.5,267.2 582.0,267.4 583.6,267.6 585.1,267.8 586.7,268.1 588.2,268.3 589.8,268.6 591.3,268.8 592.9,269.1 594.4,269.4 596.0,269.6 597.5,269.9 599.1,270.2 600.6,270.5 602.2,270.8 603.7,271.1 605.3,271.4 606.8,271.7 608.4,272.0 609.9,272.3 611.5,272.6 613.0,272.9 614.6,273.3 616.1,273.6 617.7,274.0 619.2,274.3 620.8,274.7 622.3,275.0 623.9,275.4 625.4,275.8 627.0,276.2 628.5,276.6 630.1,276.9 631.6,277.3 633.2,277.7 634.7,278.1 636.3,278.5 637.8,279.0 639.3,279.4 640.9,279.8 642.4,280.2 644.0,280.6 645.5,281.1 647.1,281.5 648.6,281.9 650.2,282.4 651.7,282.8 653.3,283.3 654.8,283.7 656.4,284.2 657.9,284.6 659.5,285.1 661.0,285.5 662.6,286.0 664.1,286.5 665.7,286.9 667.2,287.4 668.8,287.9 670.3,288.3 671.9,288.8 673.4,289.3 675.0,289.8 676.5,290.2 678.1,290.7 679.6,291.2 681.2,291.7 682.7,292.2 684.3,292.6 685.8,293.1 687.4,293.6 688.9,294.1 690.5,294.6 692.0,295.1 693.6,295.6 695.1,296.1 696.7,296.5 698.2,297.0 699.7,297.5 701.3,298.0 702.8,298.5 704.4,299.0 705.9,299.5 707.5,300.0 709.0,300.5 710.6,301.0 712.1,301.4 713.7,301.9 715.2,302.4 716.8,302.9 718.3,303.4 719.9,303.9 721.4,304.4 723.0,304.9 724.5,305.4 726.1,305.9 727.6,306.4 729.2,306.9 730.7,307.4 732.3,307.9 733.8,308.4 735.4,308.8 736.9,309.3 738.5,309.8 740.0,310.3 741.6,310.8 743.1,311.3 744.7,311.8 746.2,312.3 747.8,312.8 749.3,313.3 750.9,313.8 752.4,314.3 754.0,314.8 755.5,315.3 757.1,315.8 758.6,316.2 760.2,316.7 761.7,317.2 763.2,317.7 764.8,318.2 766.3,318.7 767.9,319.2 769.4,319.7 771.0,320.2 772.5,320.7 774.1,321.2 775.6,321.7 777.2,322.1 778.7,322.6 780.3,323.1 781.8,323.6 783.4,324.1 784.9,324.6 786.5,325.1 788.0,325.6 789.6,326.1 791.1,326.6 792.7,327.0 794.2,327.5 795.8,328.0 797.3,328.5 798.9,329.0 800.4,329.5 802.0,330.0 803.5,330.5 805.1,331.0 806.6,331.5 808.2,331.9 809.7,332.4 811.3,332.9 812.8,333.4 814.4,333.9 815.9,334.4 817.5,334.9 819.0,335.4 820.6,335.8 822.1,336.3 823.6,336.8 825.2,337.3 826.7,337.8 828.3,338.3 829.8,338.8 831.4,339.3 832.9,339.7 834.5,340.2 836.0,340.7 837.6,341.2 839.1,341.7 840.7,342.2 842.2,342.7 843.8,343.1 845.3,343.6 846.9,344.1 848.4,344.6 850.0,345.1 851.5,345.6 853.1,346.1 854.6,346.6 856.2,347.0 857.7,347.5 859.3,348.0 860.8,348.5 862.4,349.0 863.9,349.5 865.5,350.0 867.0,350.4 868.6,350.9 870.1,351.4 871.7,351.9 873.2,352.4 874.8,352.9 876.3,353.3 877.9,353.8 879.4,354.3 881.0,354.8 882.5,355.3 884.1,355.8 885.6,356.3 887.1,356.7 888.7,357.2 890.2,357.7 891.8,358.2 893.3,358.7 894.9,359.2 896.4,359.6 898.0,360.1 899.5,360.6 901.1,361.1 902.6,361.6 904.2,362.1 905.7,362.6 907.3,363.0 908.8,363.5 910.4,364.0 911.9,364.5 913.5,365.0 915.0,365.5 916.6,365.9 918.1,366.4 919.7,366.9 921.2,367.4 922.8,367.9 924.3,368.4 925.9,368.8 927.4,369.3 929.0,369.8 930.5,370.3 932.1,370.8 933.6,371.3 935.2,371.7 936.7,372.2 938.3,372.7 939.8,373.2 941.4,373.7 942.9,374.2 944.5,374.6 946.0,375.1 947.5,375.6 949.1,376.1 950.6,376.6 952.2,377.1 953.7,377.5 955.3,378.0 956.8,378.5 958.4,379.0 959.9,379.5 961.5,380.0 963.0,380.4 964.6,380.9 966.1,381.4 967.7,381.9 969.2,382.4 970.8,382.9 972.3,383.3 973.9,383.8 975.4,384.3 977.0,384.8 978.5,385.3 980.1,385.7 981.6,386.2 983.2,386.7 984.7,387.2 986.3,387.7 987.8,388.2 989.4,388.6 990.9,389.1 992.5,389.6 994.0,390.1 995.6,390.6 997.1,391.1 998.7,391.5 1000.2,392.0 1001.8,392.5 1003.3,393.0 1004.9,393.5 1006.4,394.0 1008.0,394.4 1009.5,394.9 1011.0,395.4 1012.6,395.9 1014.1,396.4 1015.7,396.8 1017.2,397.3 1018.8,397.8 1020.3,398.3 1021.9,398.8 1023.4,399.3 1025.0,399.7 1026.5,400.2 1028.1,400.7 1029.6,401.2 1031.2,401.7 1032.7,402.2 1034.3,402.6 1035.8,403.1 1037.4,403.6 1038.9,404.1 1040.5,404.6 1042.0,405.0 1043.6,405.5 1045.1,406.0 1046.7,406.5 1048.2,407.0 1049.8,407.5 1051.3,407.9 1052.9,408.4 1054.4,408.9 1056.0,409.4 1057.5,409.9 1059.1,410.3 1060.6,410.8 1062.2,411.3 1063.7,411.8 1065.3,412.3 1066.8,412.8 1068.4,413.2 1069.9,413.7" stroke="#7E2F8E"/></g><g clip-path="url(#cp)" fill="none" stroke-width="2.0"><polyline points="142.2,780.7 143.7,780.5 145.3,780.4 146.8,780.3 148.4,780.1 149.9,780.0 151.5,779.8 153.0,779.7 154.6,779.5 156.1,779.4 157.7,779.2 159.2,779.1 160.8,778.9 162.3,778.8 163.9,778.6 165.4,778.4 167.0,778.3 168.5,778.1 170.1,777.9 171.6,777.7 173.2,777.6 174.7,777.4 176.3,777.2 177.8,777.0 179.4,776.8 180.9,776.6 182.5,776.4 184.0,776.2 185.6,776.0 187.1,775.8 188.7,775.6 190.2,775.4 191.8,775.2 193.3,775.0 194.9,774.7 196.4,774.5 198.0,774.3 199.5,774.1 201.1,773.8 202.6,773.6 204.1,773.3 205.7,773.1 207.2,772.9 208.8,772.6 210.3,772.3 211.9,772.1 213.4,771.8 215.0,771.5 216.5,771.3 218.1,771.0 219.6,770.7 221.2,770.4 222.7,770.1 224.3,769.8 225.8,769.5 227.4,769.2 228.9,768.9 230.5,768.6 232.0,768.3 233.6,768.0 235.1,767.6 236.7,767.3 238.2,767.0 239.8,766.6 241.3,766.3 242.9,765.9 244.4,765.6 246.0,765.2 247.5,764.8 249.1,764.5 250.6,764.1 252.2,763.7 253.7,763.3 255.3,762.9 256.8,762.5 258.4,762.1 259.9,761.7 261.5,761.3 263.0,760.8 264.6,760.4 266.1,760.0 267.6,759.5 269.2,759.0 270.7,758.6 272.3,758.1 273.8,757.6 275.4,757.2 276.9,756.7 278.5,756.2 280.0,755.7 281.6,755.2 283.1,754.7 284.7,754.1 286.2,753.6 287.8,753.1 289.3,752.5 290.9,751.9 292.4,751.4 294.0,750.8 295.5,750.2 297.1,749.6 298.6,749.0 300.2,748.4 301.7,747.8 303.3,747.2 304.8,746.6 306.4,745.9 307.9,745.3 309.5,744.6 311.0,744.0 312.6,743.3 314.1,742.6 315.7,741.9 317.2,741.2 318.8,740.5 320.3,739.8 321.9,739.0 323.4,738.3 325.0,737.5 326.5,736.8 328.0,736.0 329.6,735.2 331.1,734.4 332.7,733.6 334.2,732.8 335.8,732.0 337.3,731.1 338.9,730.3 340.4,729.4 342.0,728.6 343.5,727.7 345.1,726.8 346.6,725.9 348.2,725.0 349.7,724.1 351.3,723.2 352.8,722.2 354.4,721.3 355.9,720.3 357.5,719.3 359.0,718.3 360.6,717.3 362.1,716.3 363.7,715.3 365.2,714.3 366.8,713.2 368.3,712.2 369.9,711.1 371.4,710.1 373.0,709.0 374.5,707.9 376.1,706.8 377.6,705.6 379.2,704.5 380.7,703.4 382.3,702.2 383.8,701.1 385.4,699.9 386.9,698.7 388.5,697.5 390.0,696.3 391.5,695.1 393.1,693.9 394.6,692.7 396.2,691.4 397.7,690.2 399.3,689.0 400.8,687.7 402.4,686.4 403.9,685.1 405.5,683.9 407.0,682.6 408.6,681.3 410.1,680.0 411.7,678.6 413.2,677.3 414.8,676.0 416.3,674.7 417.9,673.3 419.4,672.0 421.0,670.7 422.5,669.3 424.1,668.0 425.6,666.6 427.2,665.3 428.7,663.9 430.3,662.5 431.8,661.2 433.4,659.8 434.9,658.5 436.5,657.1 438.0,655.8 439.6,654.4 441.1,653.1 442.7,651.7 444.2,650.4 445.8,649.0 447.3,647.7 448.9,646.4 450.4,645.0 451.9,643.7 453.5,642.4 455.0,641.1 456.6,639.8 458.1,638.5 459.7,637.2 461.2,636.0 462.8,634.7 464.3,633.5 465.9,632.3 467.4,631.1 469.0,629.9 470.5,628.7 472.1,627.5 473.6,626.4 475.2,625.2 476.7,624.1 478.3,623.0 479.8,621.9 481.4,620.9 482.9,619.8 484.5,618.8 486.0,617.8 487.6,616.8 489.1,615.9 490.7,614.9 492.2,614.0 493.8,613.2 495.3,612.3 496.9,611.5 498.4,610.7 500.0,609.9 501.5,609.1 503.1,608.4 504.6,607.7 506.2,607.1 507.7,606.4 509.3,605.8 510.8,605.2 512.4,604.7 513.9,604.2 515.4,603.7 517.0,603.2 518.5,602.8 520.1,602.4 521.6,602.1 523.2,601.8 524.7,601.5 526.3,601.2 527.8,601.0 529.4,600.8 530.9,600.6 532.5,600.5 534.0,600.4 535.6,600.4 537.1,600.3 537.4,600.3 538.7,600.3 540.2,600.4 541.8,600.5 543.3,600.6 544.9,600.7 546.4,600.9 548.0,601.1 549.5,601.4 551.1,601.6 552.6,601.9 554.2,602.3 555.7,602.7 557.3,603.1 558.8,603.5 560.4,604.0 561.9,604.5 563.5,605.0 565.0,605.6 566.6,606.2 568.1,606.8 569.7,607.5 571.2,608.1 572.8,608.8 574.3,609.6 575.8,610.3 577.4,611.1 578.9,612.0 580.5,612.8 582.0,613.7 583.6,614.6 585.1,615.5 586.7,616.4 588.2,617.4 589.8,618.4 591.3,619.4 592.9,620.4 594.4,621.5 596.0,622.6 597.5,623.7 599.1,624.8 600.6,625.9 602.2,627.0 603.7,628.2 605.3,629.4 606.8,630.6 608.4,631.8 609.9,633.0 611.5,634.2 613.0,635.5 614.6,636.7 616.1,638.0 617.7,639.3 619.2,640.6 620.8,641.9 622.3,643.2 623.9,644.5 625.4,645.8 627.0,647.1 628.5,648.5 630.1,649.8 631.6,651.2 633.2,652.5 634.7,653.9 636.3,655.2 637.8,656.6 639.3,657.9 640.9,659.3 642.4,660.6 644.0,662.0 645.5,663.4 647.1,664.7 648.6,666.1 650.2,667.4 651.7,668.8 653.3,670.1 654.8,671.5 656.4,672.8 657.9,674.1 659.5,675.5 661.0,676.8 662.6,678.1 664.1,679.4 665.7,680.7 667.2,682.0 668.8,683.3 670.3,684.6 671.9,685.9 673.4,687.2 675.0,688.4 676.5,689.7 678.1,690.9 679.6,692.2 681.2,693.4 682.7,694.6 684.3,695.8 685.8,697.1 687.4,698.2 688.9,699.4 690.5,700.6 692.0,701.8 693.6,702.9 695.1,704.1 696.7,705.2 698.2,706.3 699.7,707.4 701.3,708.5 702.8,709.6 704.4,710.7 705.9,711.8 707.5,712.8 709.0,713.9 710.6,714.9 712.1,715.9 713.7,716.9 715.2,717.9 716.8,718.9 718.3,719.9 719.9,720.9 721.4,721.8 723.0,722.8 724.5,723.7 726.1,724.6 727.6,725.6 729.2,726.5 730.7,727.3 732.3,728.2 733.8,729.1 735.4,730.0 736.9,730.8 738.5,731.6 740.0,732.5 741.6,733.3 743.1,734.1 744.7,734.9 746.2,735.7 747.8,736.5 749.3,737.2 750.9,738.0 752.4,738.7 754.0,739.5 755.5,740.2 757.1,740.9 758.6,741.6 760.2,742.3 761.7,743.0 763.2,743.7 764.8,744.4 766.3,745.0 767.9,745.7 769.4,746.3 771.0,747.0 772.5,747.6 774.1,748.2 775.6,748.8 777.2,749.4 778.7,750.0 780.3,750.6 781.8,751.2 783.4,751.7 784.9,752.3 786.5,752.8 788.0,753.4 789.6,753.9 791.1,754.4 792.7,755.0 794.2,755.5 795.8,756.0 797.3,756.5 798.9,757.0 800.4,757.5 802.0,757.9 803.5,758.4 805.1,758.9 806.6,759.3 808.2,759.8 809.7,760.2 811.3,760.7 812.8,761.1 814.4,761.5 815.9,761.9 817.5,762.3 819.0,762.7 820.6,763.1 822.1,763.5 823.6,763.9 825.2,764.3 826.7,764.7 828.3,765.1 829.8,765.4 831.4,765.8 832.9,766.1 834.5,766.5 836.0,766.8 837.6,767.2 839.1,767.5 840.7,767.8 842.2,768.2 843.8,768.5 845.3,768.8 846.9,769.1 848.4,769.4 850.0,769.7 851.5,770.0 853.1,770.3 854.6,770.6 856.2,770.9 857.7,771.2 859.3,771.4 860.8,771.7 862.4,772.0 863.9,772.2 865.5,772.5 867.0,772.7 868.6,773.0 870.1,773.2 871.7,773.5 873.2,773.7 874.8,774.0 876.3,774.2 877.9,774.4 879.4,774.7 881.0,774.9 882.5,775.1 884.1,775.3 885.6,775.5 887.1,775.7 888.7,775.9 890.2,776.1 891.8,776.3 893.3,776.5 894.9,776.7 896.4,776.9 898.0,777.1 899.5,777.3 901.1,777.5 902.6,777.7 904.2,777.8 905.7,778.0 907.3,778.2 908.8,778.4 910.4,778.5 911.9,778.7 913.5,778.8 915.0,779.0 916.6,779.2 918.1,779.3 919.7,779.5 921.2,779.6 922.8,779.8 924.3,779.9 925.9,780.1 927.4,780.2 929.0,780.3 930.5,780.5 932.1,780.6 933.6,780.7 935.2,780.9 936.7,781.0 938.3,781.1 939.8,781.2 941.4,781.4 942.9,781.5 944.5,781.6 946.0,781.7 947.5,781.8 949.1,782.0 950.6,782.1 952.2,782.2 953.7,782.3 955.3,782.4 956.8,782.5 958.4,782.6 959.9,782.7 961.5,782.8 963.0,782.9 964.6,783.0 966.1,783.1 967.7,783.2 969.2,783.3 970.8,783.4 972.3,783.5 973.9,783.6 975.4,783.6 977.0,783.7 978.5,783.8 980.1,783.9 981.6,784.0 983.2,784.1 984.7,784.1 986.3,784.2 987.8,784.3 989.4,784.4 990.9,784.5 992.5,784.5 994.0,784.6 995.6,784.7 997.1,784.7 998.7,784.8 1000.2,784.9 1001.8,784.9 1003.3,785.0 1004.9,785.1 1006.4,785.1 1008.0,785.2 1009.5,785.3 1011.0,785.3 1012.6,785.4 1014.1,785.5 1015.7,785.5 1017.2,785.6 1018.8,785.6 1020.3,785.7 1021.9,785.7 1023.4,785.8 1025.0,785.8 1026.5,785.9 1028.1,785.9 1029.6,786.0 1031.2,786.0 1032.7,786.1 1034.3,786.1 1035.8,786.2 1037.4,786.2 1038.9,786.3 1040.5,786.3 1042.0,786.4 1043.6,786.4 1045.1,786.5 1046.7,786.5 1048.2,786.6 1049.8,786.6 1051.3,786.6 1052.9,786.7 1054.4,786.7 1056.0,786.8 1057.5,786.8 1059.1,786.8 1060.6,786.9 1062.2,786.9 1063.7,786.9 1065.3,787.0 1066.8,787.0 1068.4,787.1 1069.9,787.1" stroke="#0072BD"/><polyline points="142.2,783.9 143.7,783.8 145.3,783.7 146.8,783.6 148.4,783.5 149.9,783.4 151.5,783.3 153.0,783.2 154.6,783.1 156.1,783.0 157.7,782.9 159.2,782.8 160.8,782.7 162.3,782.6 163.9,782.4 165.4,782.3 167.0,782.2 168.5,782.1 170.1,782.0 171.6,781.8 173.2,781.7 174.7,781.6 176.3,781.4 177.8,781.3 179.4,781.2 180.9,781.0 182.5,780.9 184.0,780.7 185.6,780.6 187.1,780.4 188.7,780.3 190.2,780.1 191.8,780.0 193.3,779.8 194.9,779.7 196.4,779.5 198.0,779.3 199.5,779.1 201.1,779.0 202.6,778.8 204.1,778.6 205.7,778.4 207.2,778.2 208.8,778.1 210.3,777.9 211.9,777.7 213.4,777.5 215.0,777.3 216.5,777.1 218.1,776.8 219.6,776.6 221.2,776.4 222.7,776.2 224.3,776.0 225.8,775.7 227.4,775.5 228.9,775.3 230.5,775.0 232.0,774.8 233.6,774.5 235.1,774.3 236.7,774.0 238.2,773.7 239.8,773.5 241.3,773.2 242.9,772.9 244.4,772.6 246.0,772.4 247.5,772.1 249.1,771.8 250.6,771.5 252.2,771.2 253.7,770.8 255.3,770.5 256.8,770.2 258.4,769.9 259.9,769.5 261.5,769.2 263.0,768.9 264.6,768.5 266.1,768.1 267.6,767.8 269.2,767.4 270.7,767.0 272.3,766.6 273.8,766.3 275.4,765.9 276.9,765.5 278.5,765.0 280.0,764.6 281.6,764.2 283.1,763.8 284.7,763.3 286.2,762.9 287.8,762.4 289.3,762.0 290.9,761.5 292.4,761.0 294.0,760.5 295.5,760.0 297.1,759.5 298.6,759.0 300.2,758.5 301.7,757.9 303.3,757.4 304.8,756.9 306.4,756.3 307.9,755.7 309.5,755.2 311.0,754.6 312.6,754.0 314.1,753.4 315.7,752.7 317.2,752.1 318.8,751.5 320.3,750.8 321.9,750.2 323.4,749.5 325.0,748.8 326.5,748.1 328.0,747.4 329.6,746.7 331.1,746.0 332.7,745.2 334.2,744.5 335.8,743.7 337.3,742.9 338.9,742.1 340.4,741.3 342.0,740.5 343.5,739.7 345.1,738.8 346.6,737.9 348.2,737.1 349.7,736.2 351.3,735.3 352.8,734.4 354.4,733.4 355.9,732.5 357.5,731.5 359.0,730.5 360.6,729.5 362.1,728.5 363.7,727.5 365.2,726.5 366.8,725.4 368.3,724.4 369.9,723.3 371.4,722.2 373.0,721.0 374.5,719.9 376.1,718.7 377.6,717.6 379.2,716.4 380.7,715.2 382.3,714.0 383.8,712.7 385.4,711.5 386.9,710.2 388.5,708.9 390.0,707.6 391.5,706.3 393.1,704.9 394.6,703.6 396.2,702.2 397.7,700.8 399.3,699.4 400.8,697.9 402.4,696.5 403.9,695.0 405.5,693.5 407.0,692.0 408.6,690.5 410.1,689.0 411.7,687.4 413.2,685.9 414.8,684.3 416.3,682.7 417.9,681.1 419.4,679.4 421.0,677.8 422.5,676.1 424.1,674.4 425.6,672.8 427.2,671.0 428.7,669.3 430.3,667.6 431.8,665.9 433.4,664.1 434.9,662.4 436.5,660.6 438.0,658.8 439.6,657.0 441.1,655.2 442.7,653.4 444.2,651.6 445.8,649.8 447.3,647.9 448.9,646.1 450.4,644.3 451.9,642.4 453.5,640.6 455.0,638.8 456.6,636.9 458.1,635.1 459.7,633.3 461.2,631.5 462.8,629.6 464.3,627.8 465.9,626.0 467.4,624.2 469.0,622.4 470.5,620.6 472.1,618.9 473.6,617.1 475.2,615.4 476.7,613.6 478.3,611.9 479.8,610.2 481.4,608.6 482.9,606.9 484.5,605.3 486.0,603.7 487.6,602.1 489.1,600.5 490.7,599.0 492.2,597.5 493.8,596.1 495.3,594.6 496.9,593.2 498.4,591.8 500.0,590.5 501.5,589.2 503.1,587.9 504.6,586.7 506.2,585.5 507.7,584.3 509.3,583.2 510.8,582.2 512.4,581.1 513.9,580.2 515.4,579.2 517.0,578.3 518.5,577.5 520.1,576.7 521.6,575.9 523.2,575.2 524.7,574.6 526.3,574.0 527.8,573.4 529.4,572.9 530.9,572.4 532.5,572.0 534.0,571.7 535.6,571.4 537.1,571.1 538.7,570.9 540.2,570.8 541.8,570.7 543.3,570.7 543.7,570.7 544.9,570.7 546.4,570.7 548.0,570.9 549.5,571.0 551.1,571.3 552.6,571.5 554.2,571.9 555.7,572.2 557.3,572.7 558.8,573.2 560.4,573.7 561.9,574.3 563.5,574.9 565.0,575.6 566.6,576.3 568.1,577.1 569.7,577.9 571.2,578.8 572.8,579.7 574.3,580.7 575.8,581.7 577.4,582.7 578.9,583.8 580.5,585.0 582.0,586.1 583.6,587.4 585.1,588.6 586.7,589.9 588.2,591.2 589.8,592.6 591.3,594.0 592.9,595.4 594.4,596.8 596.0,598.3 597.5,599.8 599.1,601.4 600.6,603.0 602.2,604.6 603.7,606.2 605.3,607.8 606.8,609.5 608.4,611.2 609.9,612.9 611.5,614.6 613.0,616.3 614.6,618.1 616.1,619.8 617.7,621.6 619.2,623.4 620.8,625.2 622.3,627.0 623.9,628.8 625.4,630.6 627.0,632.4 628.5,634.3 630.1,636.1 631.6,637.9 633.2,639.8 634.7,641.6 636.3,643.4 637.8,645.3 639.3,647.1 640.9,648.9 642.4,650.8 644.0,652.6 645.5,654.4 647.1,656.2 648.6,658.0 650.2,659.8 651.7,661.5 653.3,663.3 654.8,665.1 656.4,666.8 657.9,668.5 659.5,670.3 661.0,672.0 662.6,673.7 664.1,675.3 665.7,677.0 667.2,678.7 668.8,680.3 670.3,681.9 671.9,683.5 673.4,685.1 675.0,686.7 676.5,688.3 678.1,689.8 679.6,691.3 681.2,692.8 682.7,694.3 684.3,695.8 685.8,697.3 687.4,698.7 688.9,700.1 690.5,701.5 692.0,702.9 693.6,704.3 695.1,705.6 696.7,707.0 698.2,708.3 699.7,709.6 701.3,710.9 702.8,712.1 704.4,713.4 705.9,714.6 707.5,715.8 709.0,717.0 710.6,718.2 712.1,719.4 713.7,720.5 715.2,721.6 716.8,722.8 718.3,723.9 719.9,724.9 721.4,726.0 723.0,727.0 724.5,728.1 726.1,729.1 727.6,730.1 729.2,731.1 730.7,732.0 732.3,733.0 733.8,733.9 735.4,734.9 736.9,735.8 738.5,736.7 740.0,737.5 741.6,738.4 743.1,739.3 744.7,740.1 746.2,740.9 747.8,741.7 749.3,742.5 750.9,743.3 752.4,744.1 754.0,744.9 755.5,745.6 757.1,746.3 758.6,747.1 760.2,747.8 761.7,748.5 763.2,749.2 764.8,749.9 766.3,750.5 767.9,751.2 769.4,751.8 771.0,752.5 772.5,753.1 774.1,753.7 775.6,754.3 777.2,754.9 778.7,755.5 780.3,756.0 781.8,756.6 783.4,757.2 784.9,757.7 786.5,758.2 788.0,758.8 789.6,759.3 791.1,759.8 792.7,760.3 794.2,760.8 795.8,761.3 797.3,761.7 798.9,762.2 800.4,762.7 802.0,763.1 803.5,763.6 805.1,764.0 806.6,764.4 808.2,764.9 809.7,765.3 811.3,765.7 812.8,766.1 814.4,766.5 815.9,766.9 817.5,767.2 819.0,767.6 820.6,768.0 822.1,768.3 823.6,768.7 825.2,769.0 826.7,769.4 828.3,769.7 829.8,770.1 831.4,770.4 832.9,770.7 834.5,771.0 836.0,771.3 837.6,771.6 839.1,771.9 840.7,772.2 842.2,772.5 843.8,772.8 845.3,773.1 846.9,773.4 848.4,773.6 850.0,773.9 851.5,774.1 853.1,774.4 854.6,774.7 856.2,774.9 857.7,775.1 859.3,775.4 860.8,775.6 862.4,775.9 863.9,776.1 865.5,776.3 867.0,776.5 868.6,776.7 870.1,777.0 871.7,777.2 873.2,777.4 874.8,777.6 876.3,777.8 877.9,778.0 879.4,778.2 881.0,778.3 882.5,778.5 884.1,778.7 885.6,778.9 887.1,779.1 888.7,779.2 890.2,779.4 891.8,779.6 893.3,779.7 894.9,779.9 896.4,780.1 898.0,780.2 899.5,780.4 901.1,780.5 902.6,780.7 904.2,780.8 905.7,781.0 907.3,781.1 908.8,781.2 910.4,781.4 911.9,781.5 913.5,781.6 915.0,781.8 916.6,781.9 918.1,782.0 919.7,782.1 921.2,782.3 922.8,782.4 924.3,782.5 925.9,782.6 927.4,782.7 929.0,782.8 930.5,782.9 932.1,783.1 933.6,783.2 935.2,783.3 936.7,783.4 938.3,783.5 939.8,783.6 941.4,783.7 942.9,783.8 944.5,783.8 946.0,783.9 947.5,784.0 949.1,784.1 950.6,784.2 952.2,784.3 953.7,784.4 955.3,784.5 956.8,784.5 958.4,784.6 959.9,784.7 961.5,784.8 963.0,784.9 964.6,784.9 966.1,785.0 967.7,785.1 969.2,785.1 970.8,785.2 972.3,785.3 973.9,785.3 975.4,785.4 977.0,785.5 978.5,785.5 980.1,785.6 981.6,785.7 983.2,785.7 984.7,785.8 986.3,785.9 987.8,785.9 989.4,786.0 990.9,786.0 992.5,786.1 994.0,786.1 995.6,786.2 997.1,786.2 998.7,786.3 1000.2,786.3 1001.8,786.4 1003.3,786.4 1004.9,786.5 1006.4,786.5 1008.0,786.6 1009.5,786.6 1011.0,786.7 1012.6,786.7 1014.1,786.8 1015.7,786.8 1017.2,786.8 1018.8,786.9 1020.3,786.9 1021.9,787.0 1023.4,787.0 1025.0,787.0 1026.5,787.1 1028.1,787.1 1029.6,787.2 1031.2,787.2 1032.7,787.2 1034.3,787.3 1035.8,787.3 1037.4,787.3 1038.9,787.4 1040.5,787.4 1042.0,787.4 1043.6,787.5 1045.1,787.5 1046.7,787.5 1048.2,787.5 1049.8,787.6 1051.3,787.6 1052.9,787.6 1054.4,787.7 1056.0,787.7 1057.5,787.7 1059.1,787.7 1060.6,787.8 1062.2,787.8 1063.7,787.8 1065.3,787.8 1066.8,787.9 1068.4,787.9 1069.9,787.9" stroke="#D95319"/><polyline points="142.2,786.0 143.7,785.9 145.3,785.9 146.8,785.8 148.4,785.8 149.9,785.7 151.5,785.6 153.0,785.6 154.6,785.5 156.1,785.4 157.7,785.3 159.2,785.3 160.8,785.2 162.3,785.1 163.9,785.0 165.4,784.9 167.0,784.9 168.5,784.8 170.1,784.7 171.6,784.6 173.2,784.5 174.7,784.4 176.3,784.3 177.8,784.3 179.4,784.2 180.9,784.1 182.5,784.0 184.0,783.9 185.6,783.8 187.1,783.7 188.7,783.5 190.2,783.4 191.8,783.3 193.3,783.2 194.9,783.1 196.4,783.0 198.0,782.9 199.5,782.7 201.1,782.6 202.6,782.5 204.1,782.4 205.7,782.2 207.2,782.1 208.8,782.0 210.3,781.8 211.9,781.7 213.4,781.5 215.0,781.4 216.5,781.3 218.1,781.1 219.6,780.9 221.2,780.8 222.7,780.6 224.3,780.5 225.8,780.3 227.4,780.1 228.9,780.0 230.5,779.8 232.0,779.6 233.6,779.4 235.1,779.2 236.7,779.0 238.2,778.8 239.8,778.6 241.3,778.4 242.9,778.2 244.4,778.0 246.0,777.8 247.5,777.6 249.1,777.4 250.6,777.1 252.2,776.9 253.7,776.7 255.3,776.4 256.8,776.2 258.4,775.9 259.9,775.7 261.5,775.4 263.0,775.2 264.6,774.9 266.1,774.6 267.6,774.3 269.2,774.1 270.7,773.8 272.3,773.5 273.8,773.2 275.4,772.9 276.9,772.5 278.5,772.2 280.0,771.9 281.6,771.6 283.1,771.2 284.7,770.9 286.2,770.5 287.8,770.2 289.3,769.8 290.9,769.4 292.4,769.0 294.0,768.7 295.5,768.3 297.1,767.9 298.6,767.4 300.2,767.0 301.7,766.6 303.3,766.2 304.8,765.7 306.4,765.3 307.9,764.8 309.5,764.3 311.0,763.8 312.6,763.4 314.1,762.9 315.7,762.3 317.2,761.8 318.8,761.3 320.3,760.8 321.9,760.2 323.4,759.6 325.0,759.1 326.5,758.5 328.0,757.9 329.6,757.3 331.1,756.7 332.7,756.0 334.2,755.4 335.8,754.7 337.3,754.0 338.9,753.4 340.4,752.7 342.0,752.0 343.5,751.2 345.1,750.5 346.6,749.7 348.2,749.0 349.7,748.2 351.3,747.4 352.8,746.6 354.4,745.7 355.9,744.9 357.5,744.0 359.0,743.1 360.6,742.2 362.1,741.3 363.7,740.4 365.2,739.4 366.8,738.5 368.3,737.5 369.9,736.5 371.4,735.4 373.0,734.4 374.5,733.3 376.1,732.2 377.6,731.1 379.2,730.0 380.7,728.8 382.3,727.6 383.8,726.4 385.4,725.2 386.9,724.0 388.5,722.7 390.0,721.4 391.5,720.1 393.1,718.8 394.6,717.4 396.2,716.0 397.7,714.6 399.3,713.2 400.8,711.7 402.4,710.2 403.9,708.7 405.5,707.1 407.0,705.6 408.6,704.0 410.1,702.3 411.7,700.7 413.2,699.0 414.8,697.3 416.3,695.5 417.9,693.8 419.4,692.0 421.0,690.2 422.5,688.3 424.1,686.4 425.6,684.5 427.2,682.6 428.7,680.6 430.3,678.6 431.8,676.6 433.4,674.6 434.9,672.5 436.5,670.4 438.0,668.3 439.6,666.1 441.1,663.9 442.7,661.7 444.2,659.5 445.8,657.2 447.3,655.0 448.9,652.7 450.4,650.4 451.9,648.0 453.5,645.7 455.0,643.3 456.6,640.9 458.1,638.5 459.7,636.1 461.2,633.6 462.8,631.2 464.3,628.7 465.9,626.2 467.4,623.8 469.0,621.3 470.5,618.8 472.1,616.3 473.6,613.8 475.2,611.3 476.7,608.9 478.3,606.4 479.8,603.9 481.4,601.5 482.9,599.0 484.5,596.6 486.0,594.2 487.6,591.8 489.1,589.4 490.7,587.1 492.2,584.8 493.8,582.5 495.3,580.2 496.9,578.0 498.4,575.8 500.0,573.6 501.5,571.5 503.1,569.5 504.6,567.4 506.2,565.4 507.7,563.5 509.3,561.6 510.8,559.8 512.4,558.1 513.9,556.3 515.4,554.7 517.0,553.1 518.5,551.6 520.1,550.1 521.6,548.7 523.2,547.4 524.7,546.1 526.3,544.9 527.8,543.8 529.4,542.8 530.9,541.8 532.5,540.9 534.0,540.1 535.6,539.4 537.1,538.7 538.7,538.2 540.2,537.7 541.8,537.2 543.3,536.9 544.9,536.7 546.4,536.5 548.0,536.4 548.9,536.4 549.5,536.4 551.1,536.5 552.6,536.6 554.2,536.9 555.7,537.2 557.3,537.6 558.8,538.1 560.4,538.6 561.9,539.3 563.5,540.0 565.0,540.8 566.6,541.7 568.1,542.6 569.7,543.6 571.2,544.7 572.8,545.9 574.3,547.2 575.8,548.5 577.4,549.9 578.9,551.3 580.5,552.8 582.0,554.4 583.6,556.1 585.1,557.8 586.7,559.5 588.2,561.3 589.8,563.2 591.3,565.1 592.9,567.1 594.4,569.1 596.0,571.2 597.5,573.3 599.1,575.4 600.6,577.6 602.2,579.8 603.7,582.1 605.3,584.4 606.8,586.7 608.4,589.0 609.9,591.4 611.5,593.8 613.0,596.2 614.6,598.6 616.1,601.1 617.7,603.5 619.2,606.0 620.8,608.4 622.3,610.9 623.9,613.4 625.4,615.9 627.0,618.4 628.5,620.9 630.1,623.3 631.6,625.8 633.2,628.3 634.7,630.8 636.3,633.2 637.8,635.6 639.3,638.1 640.9,640.5 642.4,642.9 644.0,645.3 645.5,647.6 647.1,650.0 648.6,652.3 650.2,654.6 651.7,656.9 653.3,659.1 654.8,661.3 656.4,663.6 657.9,665.7 659.5,667.9 661.0,670.0 662.6,672.1 664.1,674.2 665.7,676.3 667.2,678.3 668.8,680.3 670.3,682.3 671.9,684.2 673.4,686.1 675.0,688.0 676.5,689.8 678.1,691.7 679.6,693.5 681.2,695.2 682.7,697.0 684.3,698.7 685.8,700.4 687.4,702.1 688.9,703.7 690.5,705.3 692.0,706.9 693.6,708.4 695.1,709.9 696.7,711.4 698.2,712.9 699.7,714.4 701.3,715.8 702.8,717.2 704.4,718.5 705.9,719.9 707.5,721.2 709.0,722.5 710.6,723.8 712.1,725.0 713.7,726.2 715.2,727.4 716.8,728.6 718.3,729.8 719.9,730.9 721.4,732.0 723.0,733.1 724.5,734.2 726.1,735.2 727.6,736.3 729.2,737.3 730.7,738.3 732.3,739.3 733.8,740.2 735.4,741.2 736.9,742.1 738.5,743.0 740.0,743.9 741.6,744.7 743.1,745.6 744.7,746.4 746.2,747.2 747.8,748.0 749.3,748.8 750.9,749.6 752.4,750.4 754.0,751.1 755.5,751.8 757.1,752.5 758.6,753.2 760.2,753.9 761.7,754.6 763.2,755.3 764.8,755.9 766.3,756.5 767.9,757.2 769.4,757.8 771.0,758.4 772.5,759.0 774.1,759.5 775.6,760.1 777.2,760.7 778.7,761.2 780.3,761.7 781.8,762.3 783.4,762.8 784.9,763.3 786.5,763.8 788.0,764.2 789.6,764.7 791.1,765.2 792.7,765.6 794.2,766.1 795.8,766.5 797.3,767.0 798.9,767.4 800.4,767.8 802.0,768.2 803.5,768.6 805.1,769.0 806.6,769.4 808.2,769.7 809.7,770.1 811.3,770.5 812.8,770.8 814.4,771.2 815.9,771.5 817.5,771.8 819.0,772.2 820.6,772.5 822.1,772.8 823.6,773.1 825.2,773.4 826.7,773.7 828.3,774.0 829.8,774.3 831.4,774.6 832.9,774.8 834.5,775.1 836.0,775.4 837.6,775.6 839.1,775.9 840.7,776.1 842.2,776.4 843.8,776.6 845.3,776.9 846.9,777.1 848.4,777.3 850.0,777.6 851.5,777.8 853.1,778.0 854.6,778.2 856.2,778.4 857.7,778.6 859.3,778.8 860.8,779.0 862.4,779.2 863.9,779.4 865.5,779.6 867.0,779.7 868.6,779.9 870.1,780.1 871.7,780.3 873.2,780.4 874.8,780.6 876.3,780.8 877.9,780.9 879.4,781.1 881.0,781.2 882.5,781.4 884.1,781.5 885.6,781.7 887.1,781.8 888.7,781.9 890.2,782.1 891.8,782.2 893.3,782.3 894.9,782.5 896.4,782.6 898.0,782.7 899.5,782.8 901.1,783.0 902.6,783.1 904.2,783.2 905.7,783.3 907.3,783.4 908.8,783.5 910.4,783.6 911.9,783.7 913.5,783.8 915.0,783.9 916.6,784.0 918.1,784.1 919.7,784.2 921.2,784.3 922.8,784.4 924.3,784.5 925.9,784.6 927.4,784.7 929.0,784.8 930.5,784.9 932.1,784.9 933.6,785.0 935.2,785.1 936.7,785.2 938.3,785.2 939.8,785.3 941.4,785.4 942.9,785.5 944.5,785.5 946.0,785.6 947.5,785.7 949.1,785.7 950.6,785.8 952.2,785.9 953.7,785.9 955.3,786.0 956.8,786.1 958.4,786.1 959.9,786.2 961.5,786.2 963.0,786.3 964.6,786.3 966.1,786.4 967.7,786.5 969.2,786.5 970.8,786.6 972.3,786.6 973.9,786.7 975.4,786.7 977.0,786.8 978.5,786.8 980.1,786.8 981.6,786.9 983.2,786.9 984.7,787.0 986.3,787.0 987.8,787.1 989.4,787.1 990.9,787.1 992.5,787.2 994.0,787.2 995.6,787.3 997.1,787.3 998.7,787.3 1000.2,787.4 1001.8,787.4 1003.3,787.4 1004.9,787.5 1006.4,787.5 1008.0,787.5 1009.5,787.6 1011.0,787.6 1012.6,787.6 1014.1,787.7 1015.7,787.7 1017.2,787.7 1018.8,787.8 1020.3,787.8 1021.9,787.8 1023.4,787.8 1025.0,787.9 1026.5,787.9 1028.1,787.9 1029.6,787.9 1031.2,788.0 1032.7,788.0 1034.3,788.0 1035.8,788.0 1037.4,788.1 1038.9,788.1 1040.5,788.1 1042.0,788.1 1043.6,788.2 1045.1,788.2 1046.7,788.2 1048.2,788.2 1049.8,788.2 1051.3,788.3 1052.9,788.3 1054.4,788.3 1056.0,788.3 1057.5,788.3 1059.1,788.3 1060.6,788.4 1062.2,788.4 1063.7,788.4 1065.3,788.4 1066.8,788.4 1068.4,788.4 1069.9,788.5" stroke="#EDB120"/><polyline points="142.2,787.4 143.7,787.3 145.3,787.3 146.8,787.2 148.4,787.2 149.9,787.1 151.5,787.1 153.0,787.1 154.6,787.0 156.1,787.0 157.7,786.9 159.2,786.9 160.8,786.8 162.3,786.8 163.9,786.7 165.4,786.7 167.0,786.6 168.5,786.6 170.1,786.5 171.6,786.4 173.2,786.4 174.7,786.3 176.3,786.3 177.8,786.2 179.4,786.1 180.9,786.1 182.5,786.0 184.0,785.9 185.6,785.9 187.1,785.8 188.7,785.7 190.2,785.7 191.8,785.6 193.3,785.5 194.9,785.4 196.4,785.4 198.0,785.3 199.5,785.2 201.1,785.1 202.6,785.0 204.1,784.9 205.7,784.9 207.2,784.8 208.8,784.7 210.3,784.6 211.9,784.5 213.4,784.4 215.0,784.3 216.5,784.2 218.1,784.1 219.6,784.0 221.2,783.9 222.7,783.7 224.3,783.6 225.8,783.5 227.4,783.4 228.9,783.3 230.5,783.1 232.0,783.0 233.6,782.9 235.1,782.8 236.7,782.6 238.2,782.5 239.8,782.4 241.3,782.2 242.9,782.1 244.4,781.9 246.0,781.8 247.5,781.6 249.1,781.4 250.6,781.3 252.2,781.1 253.7,780.9 255.3,780.8 256.8,780.6 258.4,780.4 259.9,780.2 261.5,780.1 263.0,779.9 264.6,779.7 266.1,779.5 267.6,779.3 269.2,779.1 270.7,778.8 272.3,778.6 273.8,778.4 275.4,778.2 276.9,777.9 278.5,777.7 280.0,777.5 281.6,777.2 283.1,777.0 284.7,776.7 286.2,776.4 287.8,776.2 289.3,775.9 290.9,775.6 292.4,775.3 294.0,775.0 295.5,774.7 297.1,774.4 298.6,774.1 300.2,773.8 301.7,773.5 303.3,773.2 304.8,772.8 306.4,772.5 307.9,772.1 309.5,771.7 311.0,771.4 312.6,771.0 314.1,770.6 315.7,770.2 317.2,769.8 318.8,769.4 320.3,769.0 321.9,768.5 323.4,768.1 325.0,767.7 326.5,767.2 328.0,766.7 329.6,766.2 331.1,765.7 332.7,765.2 334.2,764.7 335.8,764.2 337.3,763.7 338.9,763.1 340.4,762.6 342.0,762.0 343.5,761.4 345.1,760.8 346.6,760.2 348.2,759.6 349.7,758.9 351.3,758.3 352.8,757.6 354.4,756.9 355.9,756.2 357.5,755.5 359.0,754.7 360.6,754.0 362.1,753.2 363.7,752.4 365.2,751.6 366.8,750.8 368.3,750.0 369.9,749.1 371.4,748.2 373.0,747.3 374.5,746.4 376.1,745.5 377.6,744.5 379.2,743.5 380.7,742.5 382.3,741.5 383.8,740.4 385.4,739.3 386.9,738.2 388.5,737.1 390.0,735.9 391.5,734.7 393.1,733.5 394.6,732.3 396.2,731.0 397.7,729.7 399.3,728.4 400.8,727.0 402.4,725.6 403.9,724.2 405.5,722.8 407.0,721.3 408.6,719.7 410.1,718.2 411.7,716.6 413.2,715.0 414.8,713.3 416.3,711.6 417.9,709.9 419.4,708.1 421.0,706.3 422.5,704.4 424.1,702.5 425.6,700.6 427.2,698.6 428.7,696.5 430.3,694.5 431.8,692.4 433.4,690.2 434.9,688.0 436.5,685.8 438.0,683.5 439.6,681.1 441.1,678.8 442.7,676.3 444.2,673.8 445.8,671.3 447.3,668.8 448.9,666.1 450.4,663.5 451.9,660.8 453.5,658.0 455.0,655.2 456.6,652.4 458.1,649.5 459.7,646.6 461.2,643.6 462.8,640.6 464.3,637.5 465.9,634.4 467.4,631.3 469.0,628.1 470.5,624.9 472.1,621.7 473.6,618.5 475.2,615.2 476.7,611.9 478.3,608.5 479.8,605.2 481.4,601.8 482.9,598.5 484.5,595.1 486.0,591.7 487.6,588.3 489.1,584.9 490.7,581.5 492.2,578.1 493.8,574.8 495.3,571.4 496.9,568.1 498.4,564.8 500.0,561.5 501.5,558.3 503.1,555.1 504.6,551.9 506.2,548.8 507.7,545.8 509.3,542.8 510.8,539.9 512.4,537.0 513.9,534.2 515.4,531.5 517.0,528.8 518.5,526.2 520.1,523.7 521.6,521.4 523.2,519.0 524.7,516.8 526.3,514.7 527.8,512.7 529.4,510.8 530.9,509.0 532.5,507.3 534.0,505.7 535.6,504.3 537.1,502.9 538.7,501.7 540.2,500.6 541.8,499.6 543.3,498.7 544.9,498.0 546.4,497.4 548.0,496.9 549.5,496.5 551.1,496.3 552.6,496.1 553.3,496.1 554.2,496.1 555.7,496.3 557.3,496.5 558.8,496.9 560.4,497.5 561.9,498.1 563.5,498.9 565.0,499.7 566.6,500.8 568.1,501.9 569.7,503.1 571.2,504.5 572.8,506.0 574.3,507.6 575.8,509.3 577.4,511.1 578.9,513.0 580.5,515.0 582.0,517.2 583.6,519.4 585.1,521.7 586.7,524.1 588.2,526.6 589.8,529.2 591.3,531.9 592.9,534.6 594.4,537.4 596.0,540.3 597.5,543.2 599.1,546.2 600.6,549.3 602.2,552.4 603.7,555.6 605.3,558.8 606.8,562.0 608.4,565.3 609.9,568.6 611.5,571.9 613.0,575.3 614.6,578.6 616.1,582.0 617.7,585.4 619.2,588.8 620.8,592.2 622.3,595.6 623.9,599.0 625.4,602.3 627.0,605.7 628.5,609.0 630.1,612.4 631.6,615.7 633.2,619.0 634.7,622.2 636.3,625.4 637.8,628.6 639.3,631.8 640.9,634.9 642.4,638.0 644.0,641.0 645.5,644.0 647.1,647.0 648.6,649.9 650.2,652.8 651.7,655.6 653.3,658.4 654.8,661.2 656.4,663.9 657.9,666.5 659.5,669.1 661.0,671.7 662.6,674.2 664.1,676.7 665.7,679.1 667.2,681.5 668.8,683.8 670.3,686.1 671.9,688.3 673.4,690.5 675.0,692.7 676.5,694.8 678.1,696.9 679.6,698.9 681.2,700.9 682.7,702.8 684.3,704.7 685.8,706.5 687.4,708.3 688.9,710.1 690.5,711.9 692.0,713.6 693.6,715.2 695.1,716.8 696.7,718.4 698.2,720.0 699.7,721.5 701.3,723.0 702.8,724.4 704.4,725.8 705.9,727.2 707.5,728.6 709.0,729.9 710.6,731.2 712.1,732.5 713.7,733.7 715.2,734.9 716.8,736.1 718.3,737.2 719.9,738.4 721.4,739.5 723.0,740.6 724.5,741.6 726.1,742.6 727.6,743.6 729.2,744.6 730.7,745.6 732.3,746.5 733.8,747.5 735.4,748.4 736.9,749.2 738.5,750.1 740.0,750.9 741.6,751.7 743.1,752.5 744.7,753.3 746.2,754.1 747.8,754.8 749.3,755.6 750.9,756.3 752.4,757.0 754.0,757.7 755.5,758.4 757.1,759.0 758.6,759.6 760.2,760.3 761.7,760.9 763.2,761.5 764.8,762.1 766.3,762.6 767.9,763.2 769.4,763.7 771.0,764.3 772.5,764.8 774.1,765.3 775.6,765.8 777.2,766.3 778.7,766.8 780.3,767.3 781.8,767.7 783.4,768.2 784.9,768.6 786.5,769.0 788.0,769.5 789.6,769.9 791.1,770.3 792.7,770.7 794.2,771.1 795.8,771.4 797.3,771.8 798.9,772.2 800.4,772.5 802.0,772.9 803.5,773.2 805.1,773.5 806.6,773.9 808.2,774.2 809.7,774.5 811.3,774.8 812.8,775.1 814.4,775.4 815.9,775.7 817.5,775.9 819.0,776.2 820.6,776.5 822.1,776.7 823.6,777.0 825.2,777.3 826.7,777.5 828.3,777.7 829.8,778.0 831.4,778.2 832.9,778.4 834.5,778.7 836.0,778.9 837.6,779.1 839.1,779.3 840.7,779.5 842.2,779.7 843.8,779.9 845.3,780.1 846.9,780.3 848.4,780.4 850.0,780.6 851.5,780.8 853.1,781.0 854.6,781.1 856.2,781.3 857.7,781.5 859.3,781.6 860.8,781.8 862.4,781.9 863.9,782.1 865.5,782.2 867.0,782.4 868.6,782.5 870.1,782.6 871.7,782.8 873.2,782.9 874.8,783.0 876.3,783.2 877.9,783.3 879.4,783.4 881.0,783.5 882.5,783.6 884.1,783.8 885.6,783.9 887.1,784.0 888.7,784.1 890.2,784.2 891.8,784.3 893.3,784.4 894.9,784.5 896.4,784.6 898.0,784.7 899.5,784.8 901.1,784.9 902.6,785.0 904.2,785.0 905.7,785.1 907.3,785.2 908.8,785.3 910.4,785.4 911.9,785.5 913.5,785.5 915.0,785.6 916.6,785.7 918.1,785.8 919.7,785.8 921.2,785.9 922.8,786.0 924.3,786.0 925.9,786.1 927.4,786.2 929.0,786.2 930.5,786.3 932.1,786.3 933.6,786.4 935.2,786.5 936.7,786.5 938.3,786.6 939.8,786.6 941.4,786.7 942.9,786.7 944.5,786.8 946.0,786.8 947.5,786.9 949.1,786.9 950.6,787.0 952.2,787.0 953.7,787.1 955.3,787.1 956.8,787.2 958.4,787.2 959.9,787.2 961.5,787.3 963.0,787.3 964.6,787.4 966.1,787.4 967.7,787.4 969.2,787.5 970.8,787.5 972.3,787.5 973.9,787.6 975.4,787.6 977.0,787.6 978.5,787.7 980.1,787.7 981.6,787.7 983.2,787.8 984.7,787.8 986.3,787.8 987.8,787.9 989.4,787.9 990.9,787.9 992.5,787.9 994.0,788.0 995.6,788.0 997.1,788.0 998.7,788.1 1000.2,788.1 1001.8,788.1 1003.3,788.1 1004.9,788.1 1006.4,788.2 1008.0,788.2 1009.5,788.2 1011.0,788.2 1012.6,788.3 1014.1,788.3 1015.7,788.3 1017.2,788.3 1018.8,788.3 1020.3,788.4 1021.9,788.4 1023.4,788.4 1025.0,788.4 1026.5,788.4 1028.1,788.4 1029.6,788.5 1031.2,788.5 1032.7,788.5 1034.3,788.5 1035.8,788.5 1037.4,788.5 1038.9,788.6 1040.5,788.6 1042.0,788.6 1043.6,788.6 1045.1,788.6 1046.7,788.6 1048.2,788.6 1049.8,788.7 1051.3,788.7 1052.9,788.7 1054.4,788.7 1056.0,788.7 1057.5,788.7 1059.1,788.7 1060.6,788.7 1062.2,788.8 1063.7,788.8 1065.3,788.8 1066.8,788.8 1068.4,788.8 1069.9,788.8" stroke="#7E2F8E"/></g><path d="M537.4 789.3V598.3" stroke="#666666" stroke-width="2"/><path d="M543.7 789.3V568.7" stroke="#666666" stroke-width="2"/><path d="M548.9 789.3V534.4" stroke="#666666" stroke-width="2"/><path d="M553.3 789.3V494.1" stroke="#666666" stroke-width="2"/><circle cx="536.8" cy="600.0" r="9.9" fill="#0072BD"/><circle cx="543.1" cy="571.2" r="9.9" fill="#D95319"/><circle cx="547.6" cy="536.2" r="9.9" fill="#EDB120"/><circle cx="552.1" cy="498.9" r="9.9" fill="#7E2F8E"/><g fill="none" stroke="#666666" stroke-width="2"><rect x="142.2" y="83.1" width="927.7" height="362.9"/><rect x="142.2" y="472.5" width="927.7" height="319.1"/><path d="M142.2 446.0v-7.5M142.2 83.1v7.5M212.0 446.0v-3.5M212.0 83.1v3.5M252.9 446.0v-3.5M252.9 83.1v3.5M281.8 446.0v-3.5M281.8 83.1v3.5M304.3 446.0v-3.5M304.3 83.1v3.5M322.7 446.0v-3.5M322.7 83.1v3.5M338.2 446.0v-3.5M338.2 83.1v3.5M351.6 446.0v-3.5M351.6 83.1v3.5M363.5 446.0v-3.5M363.5 83.1v3.5M374.1 446.0v-7.5M374.1 83.1v7.5M443.9 446.0v-3.5M443.9 83.1v3.5M484.8 446.0v-3.5M484.8 83.1v3.5M513.8 446.0v-3.5M513.8 83.1v3.5M536.2 446.0v-3.5M536.2 83.1v3.5M554.6 446.0v-3.5M554.6 83.1v3.5M570.1 446.0v-3.5M570.1 83.1v3.5M583.6 446.0v-3.5M583.6 83.1v3.5M595.4 446.0v-3.5M595.4 83.1v3.5M606.0 446.0v-7.5M606.0 83.1v7.5M675.9 446.0v-3.5M675.9 83.1v3.5M716.7 446.0v-3.5M716.7 83.1v3.5M745.7 446.0v-3.5M745.7 83.1v3.5M768.2 446.0v-3.5M768.2 83.1v3.5M786.5 446.0v-3.5M786.5 83.1v3.5M802.0 446.0v-3.5M802.0 83.1v3.5M815.5 446.0v-3.5M815.5 83.1v3.5M827.4 446.0v-3.5M827.4 83.1v3.5M838.0 446.0v-7.5M838.0 83.1v7.5M907.8 446.0v-3.5M907.8 83.1v3.5M948.6 446.0v-3.5M948.6 83.1v3.5M977.6 446.0v-3.5M977.6 83.1v3.5M1000.1 446.0v-3.5M1000.1 83.1v3.5M1018.4 446.0v-3.5M1018.4 83.1v3.5M1034.0 446.0v-3.5M1034.0 83.1v3.5M1047.4 446.0v-3.5M1047.4 83.1v3.5M1059.3 446.0v-3.5M1059.3 83.1v3.5M1069.9 446.0v-7.5M1069.9 83.1v7.5M142.2 791.6v-7.5M142.2 472.5v7.5M212.0 791.6v-3.5M212.0 472.5v3.5M252.9 791.6v-3.5M252.9 472.5v3.5M281.8 791.6v-3.5M281.8 472.5v3.5M304.3 791.6v-3.5M304.3 472.5v3.5M322.7 791.6v-3.5M322.7 472.5v3.5M338.2 791.6v-3.5M338.2 472.5v3.5M351.6 791.6v-3.5M351.6 472.5v3.5M363.5 791.6v-3.5M363.5 472.5v3.5M374.1 791.6v-7.5M374.1 472.5v7.5M443.9 791.6v-3.5M443.9 472.5v3.5M484.8 791.6v-3.5M484.8 472.5v3.5M513.8 791.6v-3.5M513.8 472.5v3.5M536.2 791.6v-3.5M536.2 472.5v3.5M554.6 791.6v-3.5M554.6 472.5v3.5M570.1 791.6v-3.5M570.1 472.5v3.5M583.6 791.6v-3.5M583.6 472.5v3.5M595.4 791.6v-3.5M595.4 472.5v3.5M606.0 791.6v-7.5M606.0 472.5v7.5M675.9 791.6v-3.5M675.9 472.5v3.5M716.7 791.6v-3.5M716.7 472.5v3.5M745.7 791.6v-3.5M745.7 472.5v3.5M768.2 791.6v-3.5M768.2 472.5v3.5M786.5 791.6v-3.5M786.5 472.5v3.5M802.0 791.6v-3.5M802.0 472.5v3.5M815.5 791.6v-3.5M815.5 472.5v3.5M827.4 791.6v-3.5M827.4 472.5v3.5M838.0 791.6v-7.5M838.0 472.5v7.5M907.8 791.6v-3.5M907.8 472.5v3.5M948.6 791.6v-3.5M948.6 472.5v3.5M977.6 791.6v-3.5M977.6 472.5v3.5M1000.1 791.6v-3.5M1000.1 472.5v3.5M1018.4 791.6v-3.5M1018.4 472.5v3.5M1034.0 791.6v-3.5M1034.0 472.5v3.5M1047.4 791.6v-3.5M1047.4 472.5v3.5M1059.3 791.6v-3.5M1059.3 472.5v3.5M1069.9 791.6v-7.5M1069.9 472.5v7.5M142.2 83.1h7.5M1069.9 83.1h-7.5M142.2 173.4h7.5M1069.9 173.4h-7.5M142.2 263.6h7.5M1069.9 263.6h-7.5M142.2 353.8h7.5M1069.9 353.8h-7.5M142.2 446.0h7.5M1069.9 446.0h-7.5M142.2 475.0h7.5M1069.9 475.0h-7.5M142.2 633.0h7.5M1069.9 633.0h-7.5M142.2 789.3h7.5M1069.9 789.3h-7.5"/></g><rect x="827.6" y="83.4" width="242.3" height="153.1" fill="#fff" stroke="#262626" stroke-width="2"/><path d="M835.2 105.3H923.3" stroke="#0072BD" stroke-width="2"/><path d="M835.2 140.5H923.3" stroke="#D95319" stroke-width="2"/><path d="M835.2 177.7H923.3" stroke="#EDB120" stroke-width="2"/><path d="M835.2 212.8H923.3" stroke="#7E2F8E" stroke-width="2"/><path d="M948.00 103.94H961.00M981.80 113.40V115.40M1009.90 103.94H1022.90M1026.50 100.80V99.60L1028.50 97.60H1034.50L1036.50 99.60V103.36L1027.50 111.40L1026.50 112.40V114.40H1037.90M948.60 140.54H961.60M980.40 151.00H982.80M1004.00 150.00V152.00M1031.80 140.54H1044.80M1049.00 137.40V136.20L1051.00 134.20H1057.00L1059.00 136.20V139.96L1050.00 148.00L1049.00 149.00V151.00H1060.40M948.80 175.94H961.80M980.60 186.40H983.00M986.30 172.80V171.60L988.30 169.60H994.30L996.30 171.60V175.36L987.30 183.40L986.30 184.40V186.40H997.70M1004.00 185.40V187.40M1031.80 175.94H1044.80M1049.00 172.80V171.60L1051.00 169.60H1057.00L1059.00 171.60V175.36L1050.00 183.40L1049.00 184.40V186.40H1060.40M948.80 213.54H961.80M980.60 224.00H983.00M986.30 209.80V209.20L988.30 207.20H994.30L996.30 209.20V212.66L994.30 214.66H989.30M994.30 214.66L996.30 216.66V222.00L994.30 224.00H988.30L986.30 222.00V221.40M1004.00 223.00V225.00M1031.80 213.54H1044.80M1049.00 210.40V209.20L1051.00 207.20H1057.00L1059.00 209.20V212.96L1050.00 221.00L1049.00 222.00V224.00H1060.40" fill="none" stroke="#000" stroke-width="2.00" stroke-linejoin="miter" stroke-linecap="butt"/><path d="M948.00 109.76H961.00M1009.90 109.76H1022.90M948.60 146.36H961.60M1031.80 146.36H1044.80M948.80 181.76H961.80M1031.80 181.76H1044.80M948.80 219.36H961.80M1031.80 219.36H1044.80" fill="none" stroke="#000" stroke-width="2.00" stroke-linejoin="miter" stroke-linecap="butt" stroke-opacity="0.6"/><path d="M970.70 96.60V115.40M969.90 98.80L966.90 101.40M970.70 133.20V152.00M969.90 135.40L966.90 138.00M992.90 133.20V152.00M992.10 135.40L989.10 138.00M970.70 168.60V187.40M969.90 170.80L966.90 173.40M970.70 206.20V225.00M969.90 208.40L966.90 211.00" fill="none" stroke="#000" stroke-width="2.00" stroke-linejoin="miter" stroke-linecap="butt" stroke-opacity="0.85"/><path d="M972.70 97.60V115.40M966.90 101.40L964.90 102.40M972.70 134.20V152.00M966.90 138.00L964.90 139.00M994.90 134.20V152.00M989.10 138.00L987.10 139.00M972.70 169.60V187.40M966.90 173.40L964.90 174.40M972.70 207.20V225.00M966.90 211.00L964.90 212.00" fill="none" stroke="#000" stroke-width="2.00" stroke-linejoin="miter" stroke-linecap="butt" stroke-opacity="0.35"/><path d="M981.80 115.40V118.60M1004.00 152.00V155.20M1004.00 187.40V190.60M1004.00 225.00V228.20" fill="none" stroke="#000" stroke-width="2.00" stroke-linejoin="miter" stroke-linecap="butt" stroke-opacity="0.45"/><text transform="translate(929.7,114.9) scale(1.1,1)" font-family="Liberation Serif" font-style="italic" font-size="25.5" fill="#555">α</text><text transform="translate(994.9,115.2) scale(1.08,1)" font-family="Liberation Serif" font-style="italic" font-size="25.6" fill="#777">β</text><text transform="translate(929.8,151.5) scale(1.1,1)" font-family="Liberation Serif" font-style="italic" font-size="25.5" fill="#555">α</text><text transform="translate(1017.1,151.8) scale(1.08,1)" font-family="Liberation Serif" font-style="italic" font-size="25.6" fill="#777">β</text><text transform="translate(929.9,186.9) scale(1.1,1)" font-family="Liberation Serif" font-style="italic" font-size="25.5" fill="#555">α</text><text transform="translate(1017.1,187.2) scale(1.08,1)" font-family="Liberation Serif" font-style="italic" font-size="25.6" fill="#777">β</text><text transform="translate(929.9,224.5) scale(1.1,1)" font-family="Liberation Serif" font-style="italic" font-size="25.5" fill="#555">α</text><text transform="translate(1017.1,224.8) scale(1.08,1)" font-family="Liberation Serif" font-style="italic" font-size="25.6" fill="#777">β</text></svg></body></html>
